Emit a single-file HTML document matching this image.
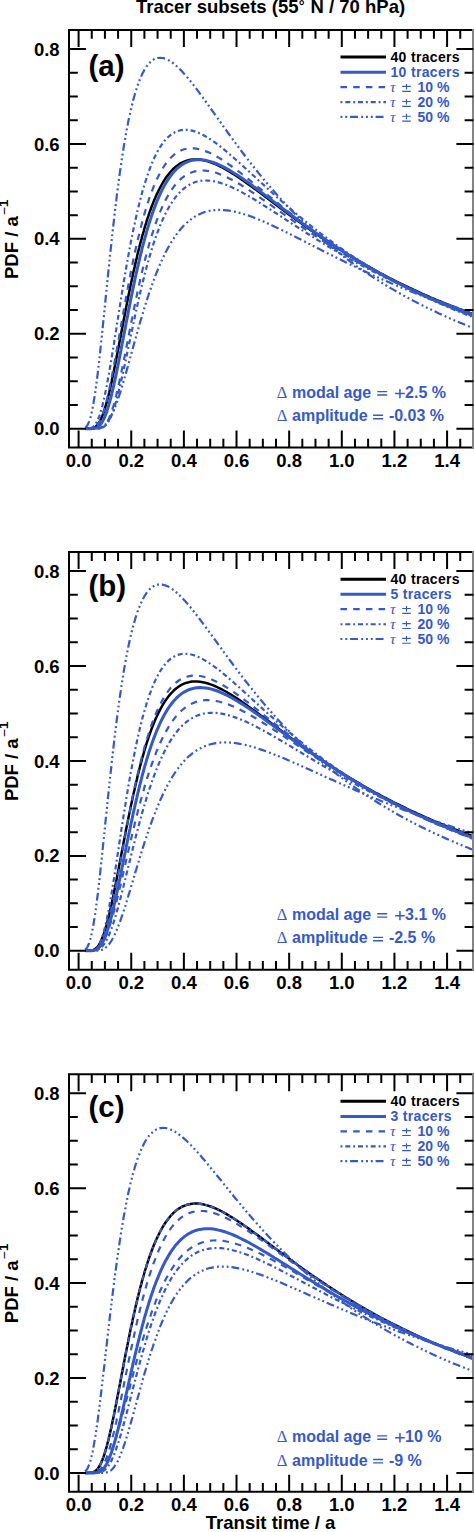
<!DOCTYPE html><html><head><meta charset="utf-8"><style>html,body{margin:0;padding:0;background:#fff;overflow:hidden;width:474px;height:1532px;}svg{display:block}</style></head><body>
<svg width="474" height="1532" viewBox="0 0 474 1532" font-family='"Liberation Sans", sans-serif'>
<rect width="474" height="1532" fill="#fff"/>
<text x="136" y="13" font-size="18.5" font-weight="bold">Tracer subsets (55<tspan font-size="14.5" dy="-1.8" dx="0.3">°</tspan><tspan dy="1.8" dx="0.8"> N / 70 hPa)</tspan></text>
<clipPath id="c0"><rect x="69.0" y="30.0" width="404.4" height="417.6"/></clipPath>
<g clip-path="url(#c0)" fill="none" stroke-linejoin="round">
<path d="M85.2,428.7 L87.2,428.7 L89.1,428.6 L89.1,428.6 L89.7,428.6 L90.3,428.6 L90.9,428.5 L91.4,428.4 L92.0,428.3 L92.6,428.1 L93.2,427.9 L93.7,427.7 L94.3,427.4 L94.9,427.1 L95.5,426.7 L96.0,426.2 L96.6,425.7 L97.2,425.1 L97.8,424.4 L98.3,423.6 L98.9,422.8 L99.5,421.8 L100.1,420.8 L100.6,419.7 L101.2,418.5 L101.8,417.1 L102.4,415.7 L102.9,414.3 L103.5,412.7 L104.1,411.0 L104.7,409.2 L105.2,407.4 L105.8,405.4 L106.4,403.4 L107.0,401.3 L107.5,399.1 L108.1,396.9 L108.7,394.5 L109.3,392.2 L109.8,389.7 L110.4,387.2 L111.0,384.6 L111.6,382.0 L112.1,379.3 L112.7,376.6 L113.3,373.8 L113.9,371.0 L114.4,368.2 L115.0,365.3 L115.6,362.4 L116.2,359.4 L116.7,356.5 L117.3,353.5 L117.9,350.5 L118.5,347.5 L119.0,344.5 L119.6,341.5 L120.2,338.5 L120.8,335.4 L121.3,332.4 L121.9,329.4 L122.5,326.4 L123.1,323.4 L123.6,320.4 L124.2,317.4 L124.8,314.4 L125.4,311.4 L125.9,308.5 L126.5,305.5 L127.1,302.6 L127.7,299.7 L128.2,296.9 L128.8,294.0 L129.4,291.2 L130.0,288.4 L130.5,285.6 L131.1,282.9 L131.7,280.2 L132.3,277.5 L132.8,274.9 L133.4,272.2 L134.0,269.6 L134.6,267.1 L135.1,264.6 L135.7,262.1 L136.3,259.6 L136.9,257.2 L137.4,254.8 L138.0,252.4 L138.6,250.1 L139.2,247.8 L139.7,245.6 L140.3,243.3 L140.9,241.2 L141.5,239.0 L142.0,236.9 L142.6,234.8 L143.2,232.8 L143.8,230.8 L144.3,228.8 L144.9,226.8 L145.5,224.9 L146.1,223.1 L146.6,221.2 L147.2,219.4 L147.8,217.7 L148.4,215.9 L148.9,214.2 L149.5,212.6 L150.1,210.9 L150.7,209.3 L151.2,207.8 L151.8,206.2 L152.4,204.7 L153.0,203.2 L153.5,201.8 L154.1,200.4 L154.7,199.0 L155.3,197.7 L155.8,196.3 L156.4,195.1 L157.0,193.8 L157.6,192.6 L160.2,187.3 L162.9,182.5 L165.5,178.3 L168.2,174.7 L170.8,171.5 L173.5,168.7 L176.1,166.4 L178.8,164.4 L181.4,162.8 L184.1,161.6 L186.8,160.6 L189.4,160.0 L192.1,159.5 L194.7,159.4 L197.4,159.4 L200.0,159.6 L202.7,160.1 L205.3,160.7 L208.0,161.4 L210.6,162.3 L213.3,163.3 L216.0,164.4 L218.6,165.7 L221.3,167.0 L223.9,168.4 L226.6,169.9 L229.2,171.5 L231.9,173.1 L234.5,174.8 L237.2,176.5 L239.8,178.3 L242.5,180.1 L245.1,182.0 L247.8,183.9 L250.5,185.8 L253.1,187.7 L255.8,189.6 L258.4,191.6 L261.1,193.6 L263.7,195.5 L266.4,197.5 L269.0,199.5 L271.7,201.5 L274.3,203.5 L277.0,205.5 L279.6,207.5 L282.3,209.5 L285.0,211.4 L287.6,213.4 L290.3,215.4 L292.9,217.3 L295.6,219.2 L298.2,221.2 L300.9,223.1 L303.5,225.0 L306.2,226.9 L308.8,228.8 L311.5,230.6 L314.2,232.5 L316.8,234.3 L319.5,236.1 L322.1,237.9 L324.8,239.7 L327.4,241.5 L330.1,243.2 L332.7,244.9 L335.4,246.7 L338.0,248.4 L340.7,250.0 L343.3,251.7 L346.0,253.4 L348.7,255.0 L351.3,256.6 L354.0,258.2 L356.6,259.8 L359.3,261.3 L361.9,262.9 L364.6,264.4 L367.2,265.9 L369.9,267.4 L372.5,268.9 L375.2,270.4 L377.9,271.8 L380.5,273.3 L383.2,274.7 L385.8,276.1 L388.5,277.5 L391.1,278.8 L393.8,280.2 L396.4,281.5 L399.1,282.8 L401.7,284.1 L404.4,285.4 L407.0,286.7 L409.7,288.0 L412.4,289.2 L415.0,290.4 L417.7,291.7 L420.3,292.9 L423.0,294.1 L425.6,295.2 L428.3,296.4 L430.9,297.6 L433.6,298.7 L436.2,299.8 L438.9,300.9 L441.6,302.0 L444.2,303.1 L446.9,304.2 L449.5,305.2 L452.2,306.3 L454.8,307.3 L457.5,308.4 L460.1,309.4 L462.8,310.4 L465.4,311.4 L468.1,312.4 L470.7,313.3 L473.4,314.3" stroke="#000" stroke-width="2.5"/>
<path d="M85.2,428.7 L87.2,428.7 L89.1,428.7 L89.1,428.7 L89.7,428.7 L90.3,428.7 L90.9,428.7 L91.4,428.7 L92.0,428.6 L92.6,428.6 L93.2,428.5 L93.7,428.5 L94.3,428.4 L94.9,428.2 L95.5,428.1 L96.0,427.9 L96.6,427.6 L97.2,427.4 L97.8,427.0 L98.3,426.6 L98.9,426.1 L99.5,425.6 L100.1,425.0 L100.6,424.3 L101.2,423.5 L101.8,422.7 L102.4,421.7 L102.9,420.7 L103.5,419.6 L104.1,418.4 L104.7,417.1 L105.2,415.7 L105.8,414.2 L106.4,412.6 L107.0,410.9 L107.5,409.2 L108.1,407.3 L108.7,405.4 L109.3,403.4 L109.8,401.3 L110.4,399.2 L111.0,397.0 L111.6,394.7 L112.1,392.3 L112.7,389.9 L113.3,387.4 L113.9,384.8 L114.4,382.2 L115.0,379.6 L115.6,376.9 L116.2,374.1 L116.7,371.4 L117.3,368.6 L117.9,365.7 L118.5,362.8 L119.0,359.9 L119.6,357.0 L120.2,354.1 L120.8,351.1 L121.3,348.1 L121.9,345.1 L122.5,342.1 L123.1,339.1 L123.6,336.1 L124.2,333.1 L124.8,330.1 L125.4,327.1 L125.9,324.1 L126.5,321.2 L127.1,318.2 L127.7,315.2 L128.2,312.3 L128.8,309.3 L129.4,306.4 L130.0,303.5 L130.5,300.7 L131.1,297.8 L131.7,295.0 L132.3,292.2 L132.8,289.4 L133.4,286.6 L134.0,283.9 L134.6,281.2 L135.1,278.5 L135.7,275.9 L136.3,273.2 L136.9,270.7 L137.4,268.1 L138.0,265.6 L138.6,263.1 L139.2,260.6 L139.7,258.2 L140.3,255.8 L140.9,253.5 L141.5,251.1 L142.0,248.8 L142.6,246.6 L143.2,244.4 L143.8,242.2 L144.3,240.0 L144.9,237.9 L145.5,235.8 L146.1,233.8 L146.6,231.8 L147.2,229.8 L147.8,227.8 L148.4,225.9 L148.9,224.0 L149.5,222.2 L150.1,220.4 L150.7,218.6 L151.2,216.9 L151.8,215.2 L152.4,213.5 L153.0,211.8 L153.5,210.2 L154.1,208.7 L154.7,207.1 L155.3,205.6 L155.8,204.1 L156.4,202.7 L157.0,201.2 L157.6,199.9 L160.2,193.8 L162.9,188.4 L165.5,183.6 L168.2,179.3 L170.8,175.6 L173.5,172.3 L176.1,169.5 L178.8,167.1 L181.4,165.0 L184.1,163.4 L186.8,162.1 L189.4,161.1 L192.1,160.3 L194.7,159.9 L197.4,159.7 L200.0,159.7 L202.7,159.9 L205.3,160.3 L208.0,160.9 L210.6,161.6 L213.3,162.5 L216.0,163.5 L218.6,164.6 L221.3,165.9 L223.9,167.2 L226.6,168.6 L229.2,170.1 L231.9,171.7 L234.5,173.4 L237.2,175.1 L239.8,176.8 L242.5,178.6 L245.1,180.4 L247.8,182.3 L250.5,184.2 L253.1,186.2 L255.8,188.1 L258.4,190.1 L261.1,192.1 L263.7,194.1 L266.4,196.1 L269.0,198.1 L271.7,200.1 L274.3,202.1 L277.0,204.1 L279.6,206.2 L282.3,208.2 L285.0,210.2 L287.6,212.2 L290.3,214.2 L292.9,216.2 L295.6,218.2 L298.2,220.2 L300.9,222.1 L303.5,224.1 L306.2,226.0 L308.8,227.9 L311.5,229.8 L314.2,231.7 L316.8,233.6 L319.5,235.5 L322.1,237.3 L324.8,239.1 L327.4,241.0 L330.1,242.8 L332.7,244.5 L335.4,246.3 L338.0,248.1 L340.7,249.8 L343.3,251.5 L346.0,253.2 L348.7,254.9 L351.3,256.5 L354.0,258.2 L356.6,259.8 L359.3,261.4 L361.9,263.0 L364.6,264.6 L367.2,266.1 L369.9,267.7 L372.5,269.2 L375.2,270.7 L377.9,272.2 L380.5,273.7 L383.2,275.1 L385.8,276.6 L388.5,278.0 L391.1,279.4 L393.8,280.8 L396.4,282.2 L399.1,283.5 L401.7,284.9 L404.4,286.2 L407.0,287.5 L409.7,288.8 L412.4,290.1 L415.0,291.3 L417.7,292.6 L420.3,293.8 L423.0,295.1 L425.6,296.3 L428.3,297.5 L430.9,298.7 L433.6,299.8 L436.2,301.0 L438.9,302.1 L441.6,303.2 L444.2,304.4 L446.9,305.5 L449.5,306.6 L452.2,307.6 L454.8,308.7 L457.5,309.8 L460.1,310.8 L462.8,311.8 L465.4,312.8 L468.1,313.9 L470.7,314.8 L473.4,315.8" stroke="#3659c8" stroke-width="3"/>
<path d="M85.2,427.7 L87.2,425.7 L89.1,421.6 L89.1,421.6 L89.7,419.9 L90.3,418.1 L90.9,415.9 L91.4,413.6 L92.0,411.0 L92.6,408.1 L93.2,405.1 L93.7,401.8 L94.3,398.2 L94.9,394.5 L95.5,390.5 L96.0,386.3 L96.6,382.0 L97.2,377.5 L97.8,372.8 L98.3,368.0 L98.9,363.0 L99.5,357.9 L100.1,352.7 L100.6,347.4 L101.2,341.9 L101.8,336.5 L102.4,330.9 L102.9,325.3 L103.5,319.7 L104.1,314.0 L104.7,308.3 L105.2,302.6 L105.8,296.9 L106.4,291.2 L107.0,285.5 L107.5,279.9 L108.1,274.2 L108.7,268.6 L109.3,263.0 L109.8,257.5 L110.4,252.1 L111.0,246.7 L111.6,241.3 L112.1,236.0 L112.7,230.8 L113.3,225.7 L113.9,220.6 L114.4,215.6 L115.0,210.7 L115.6,205.9 L116.2,201.1 L116.7,196.5 L117.3,191.9 L117.9,187.4 L118.5,183.0 L119.0,178.7 L119.6,174.5 L120.2,170.3 L120.8,166.3 L121.3,162.4 L121.9,158.5 L122.5,154.7 L123.1,151.1 L123.6,147.5 L124.2,144.0 L124.8,140.6 L125.4,137.2 L125.9,134.0 L126.5,130.9 L127.1,127.8 L127.7,124.8 L128.2,121.9 L128.8,119.1 L129.4,116.4 L130.0,113.7 L130.5,111.2 L131.1,108.7 L131.7,106.2 L132.3,103.9 L132.8,101.6 L133.4,99.4 L134.0,97.3 L134.6,95.3 L135.1,93.3 L135.7,91.4 L136.3,89.5 L136.9,87.8 L137.4,86.0 L138.0,84.4 L138.6,82.8 L139.2,81.3 L139.7,79.8 L140.3,78.4 L140.9,77.0 L141.5,75.7 L142.0,74.5 L142.6,73.3 L143.2,72.2 L143.8,71.1 L144.3,70.1 L144.9,69.1 L145.5,68.2 L146.1,67.3 L146.6,66.4 L147.2,65.6 L147.8,64.9 L148.4,64.2 L148.9,63.5 L149.5,62.9 L150.1,62.3 L150.7,61.8 L151.2,61.3 L151.8,60.8 L152.4,60.4 L153.0,60.0 L153.5,59.6 L154.1,59.3 L154.7,59.0 L155.3,58.7 L155.8,58.5 L156.4,58.3 L157.0,58.2 L157.6,58.0 L160.2,57.8 L162.9,58.0 L165.5,58.8 L168.2,60.0 L170.8,61.6 L173.5,63.5 L176.1,65.7 L178.8,68.1 L181.4,70.8 L184.1,73.7 L186.8,76.7 L189.4,79.9 L192.1,83.2 L194.7,86.6 L197.4,90.1 L200.0,93.7 L202.7,97.3 L205.3,101.0 L208.0,104.7 L210.6,108.4 L213.3,112.1 L216.0,115.9 L218.6,119.6 L221.3,123.4 L223.9,127.1 L226.6,130.8 L229.2,134.5 L231.9,138.1 L234.5,141.8 L237.2,145.4 L239.8,148.9 L242.5,152.5 L245.1,156.0 L247.8,159.4 L250.5,162.9 L253.1,166.2 L255.8,169.6 L258.4,172.9 L261.1,176.1 L263.7,179.3 L266.4,182.5 L269.0,185.6 L271.7,188.7 L274.3,191.7 L277.0,194.7 L279.6,197.7 L282.3,200.6 L285.0,203.4 L287.6,206.3 L290.3,209.0 L292.9,211.8 L295.6,214.5 L298.2,217.1 L300.9,219.7 L303.5,222.3 L306.2,224.8 L308.8,227.3 L311.5,229.8 L314.2,232.2 L316.8,234.6 L319.5,236.9 L322.1,239.2 L324.8,241.5 L327.4,243.7 L330.1,245.9 L332.7,248.0 L335.4,250.2 L338.0,252.3 L340.7,254.3 L343.3,256.4 L346.0,258.4 L348.7,260.3 L351.3,262.3 L354.0,264.2 L356.6,266.1 L359.3,268.0 L361.9,269.8 L364.6,271.6 L367.2,273.4 L369.9,275.1 L372.5,276.9 L375.2,278.6 L377.9,280.3 L380.5,281.9 L383.2,283.6 L385.8,285.2 L388.5,286.8 L391.1,288.4 L393.8,289.9 L396.4,291.5 L399.1,293.0 L401.7,294.5 L404.4,295.9 L407.0,297.4 L409.7,298.8 L412.4,300.2 L415.0,301.6 L417.7,303.0 L420.3,304.4 L423.0,305.7 L425.6,307.0 L428.3,308.3 L430.9,309.6 L433.6,310.9 L436.2,312.1 L438.9,313.4 L441.6,314.6 L444.2,315.8 L446.9,317.0 L449.5,318.2 L452.2,319.3 L454.8,320.5 L457.5,321.6 L460.1,322.7 L462.8,323.8 L465.4,324.9 L468.1,326.0 L470.7,327.1 L473.4,328.1" stroke="#3659c8" stroke-width="2.2" stroke-dasharray="7.9 3.2 1.9 2.9 1.9 2.9 1.9 2.9"/>
<path d="M85.2,428.7 L87.2,428.7 L89.1,428.5 L89.1,428.5 L89.7,428.4 L90.3,428.3 L90.9,428.1 L91.4,427.9 L92.0,427.6 L92.6,427.2 L93.2,426.8 L93.7,426.3 L94.3,425.7 L94.9,425.0 L95.5,424.3 L96.0,423.4 L96.6,422.4 L97.2,421.3 L97.8,420.0 L98.3,418.7 L98.9,417.2 L99.5,415.6 L100.1,413.9 L100.6,412.1 L101.2,410.1 L101.8,408.0 L102.4,405.8 L102.9,403.5 L103.5,401.1 L104.1,398.6 L104.7,396.0 L105.2,393.3 L105.8,390.4 L106.4,387.5 L107.0,384.6 L107.5,381.5 L108.1,378.4 L108.7,375.2 L109.3,371.9 L109.8,368.6 L110.4,365.2 L111.0,361.8 L111.6,358.3 L112.1,354.8 L112.7,351.2 L113.3,347.7 L113.9,344.1 L114.4,340.5 L115.0,336.8 L115.6,333.2 L116.2,329.5 L116.7,325.9 L117.3,322.2 L117.9,318.6 L118.5,314.9 L119.0,311.3 L119.6,307.6 L120.2,304.0 L120.8,300.4 L121.3,296.9 L121.9,293.3 L122.5,289.8 L123.1,286.3 L123.6,282.8 L124.2,279.4 L124.8,276.0 L125.4,272.6 L125.9,269.2 L126.5,265.9 L127.1,262.7 L127.7,259.4 L128.2,256.3 L128.8,253.1 L129.4,250.0 L130.0,246.9 L130.5,243.9 L131.1,240.9 L131.7,238.0 L132.3,235.1 L132.8,232.3 L133.4,229.5 L134.0,226.7 L134.6,224.0 L135.1,221.4 L135.7,218.7 L136.3,216.2 L136.9,213.7 L137.4,211.2 L138.0,208.7 L138.6,206.4 L139.2,204.0 L139.7,201.7 L140.3,199.5 L140.9,197.3 L141.5,195.1 L142.0,193.0 L142.6,190.9 L143.2,188.9 L143.8,186.9 L144.3,185.0 L144.9,183.1 L145.5,181.3 L146.1,179.5 L146.6,177.7 L147.2,176.0 L147.8,174.3 L148.4,172.6 L148.9,171.0 L149.5,169.5 L150.1,167.9 L150.7,166.4 L151.2,165.0 L151.8,163.6 L152.4,162.2 L153.0,160.9 L153.5,159.6 L154.1,158.3 L154.7,157.1 L155.3,155.9 L155.8,154.7 L156.4,153.6 L157.0,152.5 L157.6,151.4 L160.2,146.9 L162.9,143.0 L165.5,139.7 L168.2,137.0 L170.8,134.8 L173.5,133.0 L176.1,131.6 L178.8,130.7 L181.4,130.1 L184.1,129.8 L186.8,129.8 L189.4,130.1 L192.1,130.6 L194.7,131.4 L197.4,132.3 L200.0,133.5 L202.7,134.8 L205.3,136.2 L208.0,137.8 L210.6,139.5 L213.3,141.3 L216.0,143.2 L218.6,145.2 L221.3,147.3 L223.9,149.4 L226.6,151.6 L229.2,153.9 L231.9,156.2 L234.5,158.5 L237.2,160.8 L239.8,163.2 L242.5,165.6 L245.1,168.0 L247.8,170.4 L250.5,172.9 L253.1,175.3 L255.8,177.7 L258.4,180.2 L261.1,182.6 L263.7,185.0 L266.4,187.5 L269.0,189.9 L271.7,192.3 L274.3,194.7 L277.0,197.1 L279.6,199.4 L282.3,201.8 L285.0,204.1 L287.6,206.4 L290.3,208.7 L292.9,211.0 L295.6,213.2 L298.2,215.4 L300.9,217.7 L303.5,219.8 L306.2,222.0 L308.8,224.2 L311.5,226.3 L314.2,228.4 L316.8,230.4 L319.5,232.5 L322.1,234.5 L324.8,236.5 L327.4,238.5 L330.1,240.5 L332.7,242.4 L335.4,244.3 L338.0,246.2 L340.7,248.1 L343.3,249.9 L346.0,251.8 L348.7,253.6 L351.3,255.4 L354.0,257.1 L356.6,258.9 L359.3,260.6 L361.9,262.3 L364.6,263.9 L367.2,265.6 L369.9,267.2 L372.5,268.8 L375.2,270.4 L377.9,272.0 L380.5,273.5 L383.2,275.1 L385.8,276.6 L388.5,278.1 L391.1,279.6 L393.8,281.0 L396.4,282.5 L399.1,283.9 L401.7,285.3 L404.4,286.7 L407.0,288.0 L409.7,289.4 L412.4,290.7 L415.0,292.0 L417.7,293.3 L420.3,294.6 L423.0,295.9 L425.6,297.1 L428.3,298.4 L430.9,299.6 L433.6,300.8 L436.2,302.0 L438.9,303.2 L441.6,304.3 L444.2,305.5 L446.9,306.6 L449.5,307.7 L452.2,308.8 L454.8,309.9 L457.5,311.0 L460.1,312.1 L462.8,313.1 L465.4,314.2 L468.1,315.2 L470.7,316.2 L473.4,317.2" stroke="#3659c8" stroke-width="2.2" stroke-dasharray="1.9 2.9 5 2.9"/>
<path d="M85.2,428.7 L87.2,428.7 L89.1,428.7 L89.1,428.7 L89.7,428.6 L90.3,428.6 L90.9,428.5 L91.4,428.5 L92.0,428.4 L92.6,428.2 L93.2,428.1 L93.7,427.8 L94.3,427.6 L94.9,427.2 L95.5,426.8 L96.0,426.4 L96.6,425.8 L97.2,425.2 L97.8,424.5 L98.3,423.7 L98.9,422.8 L99.5,421.8 L100.1,420.7 L100.6,419.5 L101.2,418.2 L101.8,416.8 L102.4,415.3 L102.9,413.6 L103.5,411.9 L104.1,410.1 L104.7,408.2 L105.2,406.1 L105.8,404.0 L106.4,401.8 L107.0,399.5 L107.5,397.1 L108.1,394.6 L108.7,392.0 L109.3,389.4 L109.8,386.7 L110.4,383.9 L111.0,381.1 L111.6,378.2 L112.1,375.3 L112.7,372.3 L113.3,369.2 L113.9,366.1 L114.4,363.0 L115.0,359.9 L115.6,356.7 L116.2,353.5 L116.7,350.2 L117.3,347.0 L117.9,343.7 L118.5,340.5 L119.0,337.2 L119.6,333.9 L120.2,330.6 L120.8,327.3 L121.3,324.0 L121.9,320.7 L122.5,317.5 L123.1,314.2 L123.6,311.0 L124.2,307.7 L124.8,304.5 L125.4,301.3 L125.9,298.2 L126.5,295.0 L127.1,291.9 L127.7,288.8 L128.2,285.7 L128.8,282.7 L129.4,279.7 L130.0,276.7 L130.5,273.8 L131.1,270.9 L131.7,268.0 L132.3,265.1 L132.8,262.3 L133.4,259.6 L134.0,256.8 L134.6,254.1 L135.1,251.5 L135.7,248.8 L136.3,246.3 L136.9,243.7 L137.4,241.2 L138.0,238.8 L138.6,236.3 L139.2,233.9 L139.7,231.6 L140.3,229.3 L140.9,227.0 L141.5,224.8 L142.0,222.6 L142.6,220.5 L143.2,218.4 L143.8,216.3 L144.3,214.3 L144.9,212.3 L145.5,210.3 L146.1,208.4 L146.6,206.5 L147.2,204.7 L147.8,202.9 L148.4,201.1 L148.9,199.4 L149.5,197.7 L150.1,196.1 L150.7,194.5 L151.2,192.9 L151.8,191.4 L152.4,189.8 L153.0,188.4 L153.5,186.9 L154.1,185.5 L154.7,184.2 L155.3,182.8 L155.8,181.5 L156.4,180.2 L157.0,179.0 L157.6,177.8 L160.2,172.6 L162.9,168.0 L165.5,164.0 L168.2,160.6 L170.8,157.7 L173.5,155.2 L176.1,153.1 L178.8,151.5 L181.4,150.2 L184.1,149.3 L186.8,148.7 L189.4,148.3 L192.1,148.3 L194.7,148.4 L197.4,148.8 L200.0,149.4 L202.7,150.1 L205.3,151.1 L208.0,152.1 L210.6,153.3 L213.3,154.7 L216.0,156.1 L218.6,157.6 L221.3,159.3 L223.9,161.0 L226.6,162.7 L229.2,164.6 L231.9,166.5 L234.5,168.4 L237.2,170.4 L239.8,172.4 L242.5,174.5 L245.1,176.6 L247.8,178.7 L250.5,180.8 L253.1,183.0 L255.8,185.1 L258.4,187.3 L261.1,189.4 L263.7,191.6 L266.4,193.8 L269.0,196.0 L271.7,198.1 L274.3,200.3 L277.0,202.4 L279.6,204.6 L282.3,206.7 L285.0,208.8 L287.6,211.0 L290.3,213.1 L292.9,215.1 L295.6,217.2 L298.2,219.3 L300.9,221.3 L303.5,223.3 L306.2,225.3 L308.8,227.3 L311.5,229.3 L314.2,231.2 L316.8,233.2 L319.5,235.1 L322.1,237.0 L324.8,238.9 L327.4,240.7 L330.1,242.6 L332.7,244.4 L335.4,246.2 L338.0,248.0 L340.7,249.7 L343.3,251.5 L346.0,253.2 L348.7,254.9 L351.3,256.6 L354.0,258.2 L356.6,259.9 L359.3,261.5 L361.9,263.1 L364.6,264.7 L367.2,266.3 L369.9,267.8 L372.5,269.4 L375.2,270.9 L377.9,272.4 L380.5,273.9 L383.2,275.3 L385.8,276.8 L388.5,278.2 L391.1,279.6 L393.8,281.0 L396.4,282.4 L399.1,283.7 L401.7,285.1 L404.4,286.4 L407.0,287.7 L409.7,289.0 L412.4,290.3 L415.0,291.6 L417.7,292.8 L420.3,294.1 L423.0,295.3 L425.6,296.5 L428.3,297.7 L430.9,298.8 L433.6,300.0 L436.2,301.2 L438.9,302.3 L441.6,303.4 L444.2,304.5 L446.9,305.6 L449.5,306.7 L452.2,307.8 L454.8,308.8 L457.5,309.9 L460.1,310.9 L462.8,311.9 L465.4,312.9 L468.1,313.9 L470.7,314.9 L473.4,315.9" stroke="#3659c8" stroke-width="2.2" stroke-dasharray="6.5 6.2"/>
<path d="M85.2,428.7 L87.2,428.7 L89.1,428.7 L89.1,428.7 L89.7,428.7 L90.3,428.7 L90.9,428.7 L91.4,428.7 L92.0,428.7 L92.6,428.7 L93.2,428.7 L93.7,428.7 L94.3,428.7 L94.9,428.7 L95.5,428.7 L96.0,428.7 L96.6,428.7 L97.2,428.6 L97.8,428.6 L98.3,428.5 L98.9,428.4 L99.5,428.3 L100.1,428.2 L100.6,428.0 L101.2,427.8 L101.8,427.6 L102.4,427.2 L102.9,426.9 L103.5,426.4 L104.1,425.9 L104.7,425.4 L105.2,424.7 L105.8,424.0 L106.4,423.1 L107.0,422.2 L107.5,421.2 L108.1,420.1 L108.7,419.0 L109.3,417.7 L109.8,416.3 L110.4,414.9 L111.0,413.3 L111.6,411.7 L112.1,410.0 L112.7,408.1 L113.3,406.3 L113.9,404.3 L114.4,402.2 L115.0,400.1 L115.6,397.9 L116.2,395.6 L116.7,393.3 L117.3,390.8 L117.9,388.4 L118.5,385.9 L119.0,383.3 L119.6,380.7 L120.2,378.0 L120.8,375.3 L121.3,372.6 L121.9,369.8 L122.5,367.0 L123.1,364.1 L123.6,361.3 L124.2,358.4 L124.8,355.5 L125.4,352.6 L125.9,349.6 L126.5,346.7 L127.1,343.8 L127.7,340.8 L128.2,337.9 L128.8,334.9 L129.4,332.0 L130.0,329.1 L130.5,326.2 L131.1,323.2 L131.7,320.3 L132.3,317.5 L132.8,314.6 L133.4,311.7 L134.0,308.9 L134.6,306.1 L135.1,303.3 L135.7,300.5 L136.3,297.8 L136.9,295.1 L137.4,292.4 L138.0,289.7 L138.6,287.1 L139.2,284.4 L139.7,281.9 L140.3,279.3 L140.9,276.8 L141.5,274.3 L142.0,271.8 L142.6,269.4 L143.2,267.0 L143.8,264.7 L144.3,262.4 L144.9,260.1 L145.5,257.8 L146.1,255.6 L146.6,253.4 L147.2,251.2 L147.8,249.1 L148.4,247.0 L148.9,245.0 L149.5,243.0 L150.1,241.0 L150.7,239.0 L151.2,237.1 L151.8,235.3 L152.4,233.4 L153.0,231.6 L153.5,229.8 L154.1,228.1 L154.7,226.4 L155.3,224.7 L155.8,223.1 L156.4,221.4 L157.0,219.9 L157.6,218.3 L160.2,211.6 L162.9,205.5 L165.5,200.1 L168.2,195.2 L170.8,190.9 L173.5,187.1 L176.1,183.7 L178.8,180.9 L181.4,178.4 L184.1,176.3 L186.8,174.6 L189.4,173.3 L192.1,172.2 L194.7,171.4 L197.4,170.9 L200.0,170.6 L202.7,170.5 L205.3,170.6 L208.0,171.0 L210.6,171.4 L213.3,172.1 L216.0,172.8 L218.6,173.8 L221.3,174.8 L223.9,175.9 L226.6,177.1 L229.2,178.4 L231.9,179.8 L234.5,181.3 L237.2,182.8 L239.8,184.3 L242.5,186.0 L245.1,187.6 L247.8,189.3 L250.5,191.1 L253.1,192.8 L255.8,194.6 L258.4,196.4 L261.1,198.3 L263.7,200.1 L266.4,202.0 L269.0,203.8 L271.7,205.7 L274.3,207.6 L277.0,209.4 L279.6,211.3 L282.3,213.2 L285.0,215.1 L287.6,216.9 L290.3,218.8 L292.9,220.7 L295.6,222.5 L298.2,224.4 L300.9,226.2 L303.5,228.0 L306.2,229.8 L308.8,231.6 L311.5,233.4 L314.2,235.2 L316.8,236.9 L319.5,238.7 L322.1,240.4 L324.8,242.1 L327.4,243.8 L330.1,245.5 L332.7,247.2 L335.4,248.8 L338.0,250.5 L340.7,252.1 L343.3,253.7 L346.0,255.3 L348.7,256.9 L351.3,258.4 L354.0,259.9 L356.6,261.5 L359.3,263.0 L361.9,264.5 L364.6,266.0 L367.2,267.4 L369.9,268.9 L372.5,270.3 L375.2,271.7 L377.9,273.1 L380.5,274.5 L383.2,275.9 L385.8,277.2 L388.5,278.5 L391.1,279.9 L393.8,281.2 L396.4,282.5 L399.1,283.7 L401.7,285.0 L404.4,286.2 L407.0,287.5 L409.7,288.7 L412.4,289.9 L415.0,291.1 L417.7,292.3 L420.3,293.4 L423.0,294.6 L425.6,295.7 L428.3,296.9 L430.9,298.0 L433.6,299.1 L436.2,300.2 L438.9,301.2 L441.6,302.3 L444.2,303.4 L446.9,304.4 L449.5,305.4 L452.2,306.4 L454.8,307.4 L457.5,308.4 L460.1,309.4 L462.8,310.4 L465.4,311.3 L468.1,312.3 L470.7,313.2 L473.4,314.2" stroke="#3659c8" stroke-width="2.2" stroke-dasharray="6.5 6.2"/>
<path d="M85.2,428.7 L87.2,428.7 L89.1,428.7 L89.1,428.7 L89.7,428.7 L90.3,428.7 L90.9,428.7 L91.4,428.7 L92.0,428.7 L92.6,428.7 L93.2,428.7 L93.7,428.7 L94.3,428.7 L94.9,428.7 L95.5,428.7 L96.0,428.7 L96.6,428.7 L97.2,428.7 L97.8,428.6 L98.3,428.6 L98.9,428.5 L99.5,428.5 L100.1,428.4 L100.6,428.3 L101.2,428.1 L101.8,427.9 L102.4,427.7 L102.9,427.4 L103.5,427.1 L104.1,426.7 L104.7,426.2 L105.2,425.7 L105.8,425.2 L106.4,424.5 L107.0,423.8 L107.5,423.0 L108.1,422.1 L108.7,421.1 L109.3,420.0 L109.8,418.9 L110.4,417.7 L111.0,416.4 L111.6,415.0 L112.1,413.5 L112.7,411.9 L113.3,410.3 L113.9,408.6 L114.4,406.8 L115.0,404.9 L115.6,402.9 L116.2,400.9 L116.7,398.8 L117.3,396.7 L117.9,394.5 L118.5,392.2 L119.0,389.9 L119.6,387.6 L120.2,385.1 L120.8,382.7 L121.3,380.2 L121.9,377.6 L122.5,375.1 L123.1,372.5 L123.6,369.8 L124.2,367.2 L124.8,364.5 L125.4,361.8 L125.9,359.1 L126.5,356.4 L127.1,353.6 L127.7,350.9 L128.2,348.1 L128.8,345.4 L129.4,342.6 L130.0,339.8 L130.5,337.1 L131.1,334.3 L131.7,331.6 L132.3,328.9 L132.8,326.1 L133.4,323.4 L134.0,320.7 L134.6,318.0 L135.1,315.4 L135.7,312.7 L136.3,310.1 L136.9,307.5 L137.4,304.9 L138.0,302.3 L138.6,299.8 L139.2,297.3 L139.7,294.8 L140.3,292.3 L140.9,289.8 L141.5,287.4 L142.0,285.0 L142.6,282.7 L143.2,280.4 L143.8,278.1 L144.3,275.8 L144.9,273.5 L145.5,271.3 L146.1,269.2 L146.6,267.0 L147.2,264.9 L147.8,262.8 L148.4,260.7 L148.9,258.7 L149.5,256.7 L150.1,254.8 L150.7,252.8 L151.2,250.9 L151.8,249.1 L152.4,247.2 L153.0,245.4 L153.5,243.7 L154.1,241.9 L154.7,240.2 L155.3,238.5 L155.8,236.9 L156.4,235.3 L157.0,233.7 L157.6,232.1 L160.2,225.3 L162.9,219.1 L165.5,213.5 L168.2,208.5 L170.8,204.0 L173.5,200.0 L176.1,196.4 L178.8,193.3 L181.4,190.6 L184.1,188.3 L186.8,186.3 L189.4,184.7 L192.1,183.4 L194.7,182.3 L197.4,181.5 L200.0,181.0 L202.7,180.6 L205.3,180.5 L208.0,180.6 L210.6,180.8 L213.3,181.2 L216.0,181.7 L218.6,182.4 L221.3,183.2 L223.9,184.1 L226.6,185.0 L229.2,186.1 L231.9,187.3 L234.5,188.5 L237.2,189.8 L239.8,191.2 L242.5,192.6 L245.1,194.1 L247.8,195.6 L250.5,197.1 L253.1,198.7 L255.8,200.3 L258.4,202.0 L261.1,203.6 L263.7,205.3 L266.4,207.0 L269.0,208.7 L271.7,210.4 L274.3,212.1 L277.0,213.8 L279.6,215.6 L282.3,217.3 L285.0,219.1 L287.6,220.8 L290.3,222.5 L292.9,224.3 L295.6,226.0 L298.2,227.7 L300.9,229.4 L303.5,231.1 L306.2,232.8 L308.8,234.5 L311.5,236.2 L314.2,237.8 L316.8,239.5 L319.5,241.1 L322.1,242.8 L324.8,244.4 L327.4,246.0 L330.1,247.6 L332.7,249.2 L335.4,250.7 L338.0,252.3 L340.7,253.8 L343.3,255.3 L346.0,256.9 L348.7,258.4 L351.3,259.8 L354.0,261.3 L356.6,262.8 L359.3,264.2 L361.9,265.6 L364.6,267.0 L367.2,268.4 L369.9,269.8 L372.5,271.2 L375.2,272.5 L377.9,273.9 L380.5,275.2 L383.2,276.5 L385.8,277.8 L388.5,279.1 L391.1,280.3 L393.8,281.6 L396.4,282.8 L399.1,284.1 L401.7,285.3 L404.4,286.5 L407.0,287.7 L409.7,288.8 L412.4,290.0 L415.0,291.1 L417.7,292.3 L420.3,293.4 L423.0,294.5 L425.6,295.6 L428.3,296.7 L430.9,297.8 L433.6,298.8 L436.2,299.9 L438.9,300.9 L441.6,301.9 L444.2,303.0 L446.9,304.0 L449.5,305.0 L452.2,305.9 L454.8,306.9 L457.5,307.9 L460.1,308.8 L462.8,309.8 L465.4,310.7 L468.1,311.6 L470.7,312.5 L473.4,313.4" stroke="#3659c8" stroke-width="2.2" stroke-dasharray="1.9 2.9 5 2.9"/>
<path d="M85.2,428.7 L87.2,428.7 L89.1,428.7 L89.1,428.7 L89.7,428.7 L90.3,428.7 L90.9,428.7 L91.4,428.7 L92.0,428.7 L92.6,428.7 L93.2,428.7 L93.7,428.7 L94.3,428.7 L94.9,428.6 L95.5,428.6 L96.0,428.6 L96.6,428.5 L97.2,428.5 L97.8,428.4 L98.3,428.3 L98.9,428.2 L99.5,428.0 L100.1,427.8 L100.6,427.6 L101.2,427.4 L101.8,427.1 L102.4,426.8 L102.9,426.5 L103.5,426.1 L104.1,425.6 L104.7,425.2 L105.2,424.6 L105.8,424.0 L106.4,423.4 L107.0,422.7 L107.5,422.0 L108.1,421.2 L108.7,420.3 L109.3,419.4 L109.8,418.4 L110.4,417.4 L111.0,416.3 L111.6,415.2 L112.1,414.0 L112.7,412.8 L113.3,411.5 L113.9,410.2 L114.4,408.8 L115.0,407.4 L115.6,405.9 L116.2,404.4 L116.7,402.8 L117.3,401.2 L117.9,399.5 L118.5,397.8 L119.0,396.1 L119.6,394.3 L120.2,392.6 L120.8,390.7 L121.3,388.9 L121.9,387.0 L122.5,385.1 L123.1,383.1 L123.6,381.2 L124.2,379.2 L124.8,377.2 L125.4,375.2 L125.9,373.2 L126.5,371.1 L127.1,369.1 L127.7,367.0 L128.2,364.9 L128.8,362.9 L129.4,360.8 L130.0,358.7 L130.5,356.6 L131.1,354.5 L131.7,352.4 L132.3,350.3 L132.8,348.2 L133.4,346.1 L134.0,344.0 L134.6,341.9 L135.1,339.8 L135.7,337.8 L136.3,335.7 L136.9,333.7 L137.4,331.6 L138.0,329.6 L138.6,327.6 L139.2,325.5 L139.7,323.5 L140.3,321.6 L140.9,319.6 L141.5,317.6 L142.0,315.7 L142.6,313.8 L143.2,311.9 L143.8,310.0 L144.3,308.1 L144.9,306.2 L145.5,304.4 L146.1,302.6 L146.6,300.8 L147.2,299.0 L147.8,297.2 L148.4,295.5 L148.9,293.7 L149.5,292.0 L150.1,290.3 L150.7,288.7 L151.2,287.0 L151.8,285.4 L152.4,283.8 L153.0,282.2 L153.5,280.6 L154.1,279.1 L154.7,277.5 L155.3,276.0 L155.8,274.6 L156.4,273.1 L157.0,271.6 L157.6,270.2 L160.2,263.9 L162.9,258.1 L165.5,252.6 L168.2,247.6 L170.8,243.0 L173.5,238.8 L176.1,234.9 L178.8,231.4 L181.4,228.2 L184.1,225.3 L186.8,222.8 L189.4,220.5 L192.1,218.5 L194.7,216.7 L197.4,215.2 L200.0,213.9 L202.7,212.8 L205.3,211.9 L208.0,211.2 L210.6,210.6 L213.3,210.2 L216.0,210.0 L218.6,209.9 L221.3,209.9 L223.9,210.1 L226.6,210.3 L229.2,210.7 L231.9,211.1 L234.5,211.6 L237.2,212.2 L239.8,212.9 L242.5,213.7 L245.1,214.5 L247.8,215.4 L250.5,216.3 L253.1,217.3 L255.8,218.3 L258.4,219.4 L261.1,220.5 L263.7,221.6 L266.4,222.8 L269.0,224.0 L271.7,225.2 L274.3,226.4 L277.0,227.7 L279.6,229.0 L282.3,230.3 L285.0,231.6 L287.6,232.9 L290.3,234.2 L292.9,235.6 L295.6,236.9 L298.2,238.3 L300.9,239.6 L303.5,241.0 L306.2,242.3 L308.8,243.7 L311.5,245.0 L314.2,246.4 L316.8,247.8 L319.5,249.1 L322.1,250.5 L324.8,251.8 L327.4,253.2 L330.1,254.5 L332.7,255.8 L335.4,257.2 L338.0,258.5 L340.7,259.8 L343.3,261.1 L346.0,262.4 L348.7,263.7 L351.3,265.0 L354.0,266.3 L356.6,267.5 L359.3,268.8 L361.9,270.1 L364.6,271.3 L367.2,272.5 L369.9,273.7 L372.5,275.0 L375.2,276.2 L377.9,277.4 L380.5,278.5 L383.2,279.7 L385.8,280.9 L388.5,282.0 L391.1,283.2 L393.8,284.3 L396.4,285.5 L399.1,286.6 L401.7,287.7 L404.4,288.8 L407.0,289.9 L409.7,290.9 L412.4,292.0 L415.0,293.1 L417.7,294.1 L420.3,295.1 L423.0,296.2 L425.6,297.2 L428.3,298.2 L430.9,299.2 L433.6,300.2 L436.2,301.2 L438.9,302.1 L441.6,303.1 L444.2,304.1 L446.9,305.0 L449.5,305.9 L452.2,306.9 L454.8,307.8 L457.5,308.7 L460.1,309.6 L462.8,310.5 L465.4,311.3 L468.1,312.2 L470.7,313.1 L473.4,313.9" stroke="#3659c8" stroke-width="2.2" stroke-dasharray="7.9 3.2 1.9 2.9 1.9 2.9 1.9 2.9"/>
</g>
<path d="M474,30.0 H69.0 V447.6 H474" fill="none" stroke="#000" stroke-width="2"/>
<rect x="472" y="29.0" width="2" height="419.6" fill="#858585"/>
<path d="M78.60,447.6 V430.60 M78.60,30.0 V47.00 M91.76,447.6 V438.80 M91.76,30.0 V38.80 M104.92,447.6 V438.80 M104.92,30.0 V38.80 M118.08,447.6 V438.80 M118.08,30.0 V38.80 M131.24,447.6 V430.60 M131.24,30.0 V47.00 M144.40,447.6 V438.80 M144.40,30.0 V38.80 M157.56,447.6 V438.80 M157.56,30.0 V38.80 M170.72,447.6 V438.80 M170.72,30.0 V38.80 M183.88,447.6 V430.60 M183.88,30.0 V47.00 M197.04,447.6 V438.80 M197.04,30.0 V38.80 M210.20,447.6 V438.80 M210.20,30.0 V38.80 M223.36,447.6 V438.80 M223.36,30.0 V38.80 M236.52,447.6 V430.60 M236.52,30.0 V47.00 M249.68,447.6 V438.80 M249.68,30.0 V38.80 M262.84,447.6 V438.80 M262.84,30.0 V38.80 M276.00,447.6 V438.80 M276.00,30.0 V38.80 M289.16,447.6 V430.60 M289.16,30.0 V47.00 M302.32,447.6 V438.80 M302.32,30.0 V38.80 M315.48,447.6 V438.80 M315.48,30.0 V38.80 M328.64,447.6 V438.80 M328.64,30.0 V38.80 M341.80,447.6 V430.60 M341.80,30.0 V47.00 M354.96,447.6 V438.80 M354.96,30.0 V38.80 M368.12,447.6 V438.80 M368.12,30.0 V38.80 M381.28,447.6 V438.80 M381.28,30.0 V38.80 M394.44,447.6 V430.60 M394.44,30.0 V47.00 M407.60,447.6 V438.80 M407.60,30.0 V38.80 M420.76,447.6 V438.80 M420.76,30.0 V38.80 M433.92,447.6 V438.80 M433.92,30.0 V38.80 M447.08,447.6 V430.60 M447.08,30.0 V47.00 M460.24,447.6 V438.80 M460.24,30.0 V38.80 M69.0,428.70 H86.00 M473.4,428.70 H456.40 M69.0,404.97 H77.80 M473.4,404.97 H464.60 M69.0,381.24 H77.80 M473.4,381.24 H464.60 M69.0,357.51 H77.80 M473.4,357.51 H464.60 M69.0,333.78 H86.00 M473.4,333.78 H456.40 M69.0,310.05 H77.80 M473.4,310.05 H464.60 M69.0,286.32 H77.80 M473.4,286.32 H464.60 M69.0,262.59 H77.80 M473.4,262.59 H464.60 M69.0,238.86 H86.00 M473.4,238.86 H456.40 M69.0,215.13 H77.80 M473.4,215.13 H464.60 M69.0,191.40 H77.80 M473.4,191.40 H464.60 M69.0,167.67 H77.80 M473.4,167.67 H464.60 M69.0,143.94 H86.00 M473.4,143.94 H456.40 M69.0,120.21 H77.80 M473.4,120.21 H464.60 M69.0,96.48 H77.80 M473.4,96.48 H464.60 M69.0,72.75 H77.80 M473.4,72.75 H464.60 M69.0,49.02 H86.00 M473.4,49.02 H456.40" stroke="#000" stroke-width="2" fill="none"/>
<text x="78.60" y="466.50" font-size="18.5" font-weight="bold" text-anchor="middle">0.0</text>
<text x="131.24" y="466.50" font-size="18.5" font-weight="bold" text-anchor="middle">0.2</text>
<text x="183.88" y="466.50" font-size="18.5" font-weight="bold" text-anchor="middle">0.4</text>
<text x="236.52" y="466.50" font-size="18.5" font-weight="bold" text-anchor="middle">0.6</text>
<text x="289.16" y="466.50" font-size="18.5" font-weight="bold" text-anchor="middle">0.8</text>
<text x="341.80" y="466.50" font-size="18.5" font-weight="bold" text-anchor="middle">1.0</text>
<text x="394.44" y="466.50" font-size="18.5" font-weight="bold" text-anchor="middle">1.2</text>
<text x="447.08" y="466.50" font-size="18.5" font-weight="bold" text-anchor="middle">1.4</text>
<text x="59.6" y="435.30" font-size="18.5" font-weight="bold" text-anchor="end">0.0</text>
<text x="59.6" y="340.38" font-size="18.5" font-weight="bold" text-anchor="end">0.2</text>
<text x="59.6" y="245.46" font-size="18.5" font-weight="bold" text-anchor="end">0.4</text>
<text x="59.6" y="150.54" font-size="18.5" font-weight="bold" text-anchor="end">0.6</text>
<text x="59.6" y="55.62" font-size="18.5" font-weight="bold" text-anchor="end">0.8</text>
<text transform="translate(18,279.00) rotate(-90)" font-size="18.5" font-weight="bold">PDF / a<tspan font-size="14" font-weight="normal" dy="-8.8" dx="1.1">−</tspan><tspan font-size="13.5" dx="0.1" dy="-1">1</tspan></text>
<text x="88.5" y="75.80" font-size="29.5" font-weight="bold">(a)</text>
<path d="M340.5,57.10 H386" stroke="#000" stroke-width="3"/>
<path d="M340.5,72.25 H386" stroke="#3659c8" stroke-width="3"/>
<path d="M340.5,87.10 H386" stroke="#3659c8" stroke-width="2.2" stroke-dasharray="6.5 6.2" stroke-dashoffset="0"/>
<path d="M340.5,102.15 H386" stroke="#3659c8" stroke-width="2.2" stroke-dasharray="1.9 2.9 5 2.9" stroke-dashoffset="0"/>
<path d="M340.5,116.90 H386" stroke="#3659c8" stroke-width="2.2" stroke-dasharray="7.9 3.2 1.9 2.9 1.9 2.9 1.9 2.9" stroke-dashoffset="15.9"/>
<text x="390.45" y="62.05" font-size="14" font-weight="bold" letter-spacing="0.33">40 tracers</text>
<text x="390.45" y="77.20" font-size="14" font-weight="bold" letter-spacing="0.33" fill="#3659c8">10 tracers</text>
<text x="390" y="92.05" font-size="15.5" font-style="italic" font-family='"Liberation Serif", serif' fill="#3659c8">τ</text>
<path d="M402.2,86.40 H410.8 M406.5,84.00 V89.40 M402.2,91.30 H410.8" stroke="#3659c8" stroke-width="1.15"/>
<text x="417.5" y="92.05" font-size="14" font-weight="bold" fill="#3659c8">10 %</text>
<text x="390" y="107.10" font-size="15.5" font-style="italic" font-family='"Liberation Serif", serif' fill="#3659c8">τ</text>
<path d="M402.2,101.45 H410.8 M406.5,99.05 V104.45 M402.2,106.35 H410.8" stroke="#3659c8" stroke-width="1.15"/>
<text x="417.5" y="107.10" font-size="14" font-weight="bold" fill="#3659c8">20 %</text>
<text x="390" y="121.85" font-size="15.5" font-style="italic" font-family='"Liberation Serif", serif' fill="#3659c8">τ</text>
<path d="M402.2,116.20 H410.8 M406.5,113.80 V119.20 M402.2,121.10 H410.8" stroke="#3659c8" stroke-width="1.15"/>
<text x="417.5" y="121.85" font-size="14" font-weight="bold" fill="#3659c8">50 %</text>
<text x="276.8" y="398.20" font-size="16.5" font-family='"Liberation Serif", serif' fill="#3659c8">Δ</text>
<text x="292" y="398.20" font-size="16" font-weight="bold" fill="#3659c8">modal age</text>
<text x="276.8" y="421.30" font-size="16.5" font-family='"Liberation Serif", serif' fill="#3659c8">Δ</text>
<text x="292" y="421.30" font-size="16" font-weight="bold" fill="#3659c8">amplitude</text>
<path d="M377.2,391.65 H387.2 M377.2,395.05 H387.2" stroke="#3659c8" stroke-width="1.4"/>
<path d="M395.1,393.55 H404.8 M399.95,388.90 V398.20" stroke="#3659c8" stroke-width="1.5"/>
<text x="405.1" y="398.20" font-size="16" font-weight="bold" fill="#3659c8">2.5 %</text>
<path d="M373.1,415.30 H383.1 M373.1,418.70 H383.1" stroke="#3659c8" stroke-width="1.4"/>
<text x="388.9" y="421.30" font-size="16" font-weight="bold" fill="#3659c8">-0.03 %</text>
<clipPath id="c1"><rect x="69.0" y="552.1" width="404.4" height="417.6"/></clipPath>
<g clip-path="url(#c1)" fill="none" stroke-linejoin="round">
<path d="M85.2,950.8 L87.2,950.8 L89.1,950.7 L89.1,950.7 L89.7,950.7 L90.3,950.7 L90.9,950.6 L91.4,950.5 L92.0,950.4 L92.6,950.2 L93.2,950.0 L93.7,949.8 L94.3,949.5 L94.9,949.2 L95.5,948.8 L96.0,948.3 L96.6,947.8 L97.2,947.2 L97.8,946.5 L98.3,945.7 L98.9,944.9 L99.5,943.9 L100.1,942.9 L100.6,941.8 L101.2,940.6 L101.8,939.2 L102.4,937.8 L102.9,936.4 L103.5,934.8 L104.1,933.1 L104.7,931.3 L105.2,929.5 L105.8,927.5 L106.4,925.5 L107.0,923.4 L107.5,921.2 L108.1,919.0 L108.7,916.6 L109.3,914.3 L109.8,911.8 L110.4,909.3 L111.0,906.7 L111.6,904.1 L112.1,901.4 L112.7,898.7 L113.3,895.9 L113.9,893.1 L114.4,890.3 L115.0,887.4 L115.6,884.5 L116.2,881.5 L116.7,878.6 L117.3,875.6 L117.9,872.6 L118.5,869.6 L119.0,866.6 L119.6,863.6 L120.2,860.6 L120.8,857.5 L121.3,854.5 L121.9,851.5 L122.5,848.5 L123.1,845.5 L123.6,842.5 L124.2,839.5 L124.8,836.5 L125.4,833.5 L125.9,830.6 L126.5,827.6 L127.1,824.7 L127.7,821.8 L128.2,819.0 L128.8,816.1 L129.4,813.3 L130.0,810.5 L130.5,807.7 L131.1,805.0 L131.7,802.3 L132.3,799.6 L132.8,797.0 L133.4,794.3 L134.0,791.7 L134.6,789.2 L135.1,786.7 L135.7,784.2 L136.3,781.7 L136.9,779.3 L137.4,776.9 L138.0,774.5 L138.6,772.2 L139.2,769.9 L139.7,767.7 L140.3,765.4 L140.9,763.3 L141.5,761.1 L142.0,759.0 L142.6,756.9 L143.2,754.9 L143.8,752.9 L144.3,750.9 L144.9,748.9 L145.5,747.0 L146.1,745.2 L146.6,743.3 L147.2,741.5 L147.8,739.8 L148.4,738.0 L148.9,736.3 L149.5,734.7 L150.1,733.0 L150.7,731.4 L151.2,729.9 L151.8,728.3 L152.4,726.8 L153.0,725.3 L153.5,723.9 L154.1,722.5 L154.7,721.1 L155.3,719.8 L155.8,718.4 L156.4,717.2 L157.0,715.9 L157.6,714.7 L160.2,709.4 L162.9,704.6 L165.5,700.4 L168.2,696.8 L170.8,693.6 L173.5,690.8 L176.1,688.5 L178.8,686.5 L181.4,684.9 L184.1,683.7 L186.8,682.7 L189.4,682.1 L192.1,681.6 L194.7,681.5 L197.4,681.5 L200.0,681.7 L202.7,682.2 L205.3,682.8 L208.0,683.5 L210.6,684.4 L213.3,685.4 L216.0,686.5 L218.6,687.8 L221.3,689.1 L223.9,690.5 L226.6,692.0 L229.2,693.6 L231.9,695.2 L234.5,696.9 L237.2,698.6 L239.8,700.4 L242.5,702.2 L245.1,704.1 L247.8,706.0 L250.5,707.9 L253.1,709.8 L255.8,711.7 L258.4,713.7 L261.1,715.7 L263.7,717.6 L266.4,719.6 L269.0,721.6 L271.7,723.6 L274.3,725.6 L277.0,727.6 L279.6,729.6 L282.3,731.6 L285.0,733.5 L287.6,735.5 L290.3,737.5 L292.9,739.4 L295.6,741.3 L298.2,743.3 L300.9,745.2 L303.5,747.1 L306.2,749.0 L308.8,750.9 L311.5,752.7 L314.2,754.6 L316.8,756.4 L319.5,758.2 L322.1,760.0 L324.8,761.8 L327.4,763.6 L330.1,765.3 L332.7,767.0 L335.4,768.8 L338.0,770.5 L340.7,772.1 L343.3,773.8 L346.0,775.5 L348.7,777.1 L351.3,778.7 L354.0,780.3 L356.6,781.9 L359.3,783.4 L361.9,785.0 L364.6,786.5 L367.2,788.0 L369.9,789.5 L372.5,791.0 L375.2,792.5 L377.9,793.9 L380.5,795.4 L383.2,796.8 L385.8,798.2 L388.5,799.6 L391.1,800.9 L393.8,802.3 L396.4,803.6 L399.1,804.9 L401.7,806.2 L404.4,807.5 L407.0,808.8 L409.7,810.1 L412.4,811.3 L415.0,812.5 L417.7,813.8 L420.3,815.0 L423.0,816.2 L425.6,817.3 L428.3,818.5 L430.9,819.7 L433.6,820.8 L436.2,821.9 L438.9,823.0 L441.6,824.1 L444.2,825.2 L446.9,826.3 L449.5,827.3 L452.2,828.4 L454.8,829.4 L457.5,830.5 L460.1,831.5 L462.8,832.5 L465.4,833.5 L468.1,834.5 L470.7,835.4 L473.4,836.4" stroke="#000" stroke-width="2.5"/>
<path d="M85.2,950.8 L87.2,950.8 L89.1,950.8 L89.1,950.8 L89.7,950.8 L90.3,950.8 L90.9,950.7 L91.4,950.7 L92.0,950.7 L92.6,950.6 L93.2,950.5 L93.7,950.4 L94.3,950.3 L94.9,950.1 L95.5,949.9 L96.0,949.6 L96.6,949.3 L97.2,949.0 L97.8,948.6 L98.3,948.1 L98.9,947.6 L99.5,947.0 L100.1,946.3 L100.6,945.5 L101.2,944.7 L101.8,943.8 L102.4,942.8 L102.9,941.7 L103.5,940.6 L104.1,939.3 L104.7,938.0 L105.2,936.6 L105.8,935.1 L106.4,933.5 L107.0,931.8 L107.5,930.1 L108.1,928.3 L108.7,926.4 L109.3,924.4 L109.8,922.4 L110.4,920.3 L111.0,918.1 L111.6,915.9 L112.1,913.6 L112.7,911.2 L113.3,908.8 L113.9,906.3 L114.4,903.8 L115.0,901.3 L115.6,898.7 L116.2,896.1 L116.7,893.4 L117.3,890.7 L117.9,888.0 L118.5,885.3 L119.0,882.5 L119.6,879.7 L120.2,876.9 L120.8,874.1 L121.3,871.2 L121.9,868.4 L122.5,865.5 L123.1,862.7 L123.6,859.8 L124.2,857.0 L124.8,854.1 L125.4,851.2 L125.9,848.4 L126.5,845.6 L127.1,842.7 L127.7,839.9 L128.2,837.1 L128.8,834.3 L129.4,831.5 L130.0,828.8 L130.5,826.0 L131.1,823.3 L131.7,820.6 L132.3,817.9 L132.8,815.3 L133.4,812.6 L134.0,810.0 L134.6,807.4 L135.1,804.9 L135.7,802.3 L136.3,799.8 L136.9,797.3 L137.4,794.9 L138.0,792.5 L138.6,790.1 L139.2,787.7 L139.7,785.4 L140.3,783.1 L140.9,780.8 L141.5,778.6 L142.0,776.4 L142.6,774.2 L143.2,772.1 L143.8,770.0 L144.3,767.9 L144.9,765.8 L145.5,763.8 L146.1,761.9 L146.6,759.9 L147.2,758.0 L147.8,756.1 L148.4,754.2 L148.9,752.4 L149.5,750.6 L150.1,748.9 L150.7,747.1 L151.2,745.5 L151.8,743.8 L152.4,742.2 L153.0,740.5 L153.5,739.0 L154.1,737.4 L154.7,735.9 L155.3,734.4 L155.8,733.0 L156.4,731.6 L157.0,730.2 L157.6,728.8 L160.2,722.9 L162.9,717.5 L165.5,712.7 L168.2,708.4 L170.8,704.7 L173.5,701.3 L176.1,698.4 L178.8,695.9 L181.4,693.8 L184.1,692.1 L186.8,690.6 L189.4,689.5 L192.1,688.7 L194.7,688.1 L197.4,687.7 L200.0,687.6 L202.7,687.7 L205.3,687.9 L208.0,688.3 L210.6,688.9 L213.3,689.7 L216.0,690.5 L218.6,691.5 L221.3,692.6 L223.9,693.8 L226.6,695.1 L229.2,696.4 L231.9,697.9 L234.5,699.4 L237.2,701.0 L239.8,702.6 L242.5,704.3 L245.1,706.0 L247.8,707.7 L250.5,709.5 L253.1,711.3 L255.8,713.2 L258.4,715.1 L261.1,716.9 L263.7,718.8 L266.4,720.7 L269.0,722.7 L271.7,724.6 L274.3,726.5 L277.0,728.5 L279.6,730.4 L282.3,732.3 L285.0,734.3 L287.6,736.2 L290.3,738.1 L292.9,740.1 L295.6,742.0 L298.2,743.9 L300.9,745.8 L303.5,747.7 L306.2,749.5 L308.8,751.4 L311.5,753.2 L314.2,755.1 L316.8,756.9 L319.5,758.7 L322.1,760.5 L324.8,762.3 L327.4,764.1 L330.1,765.8 L332.7,767.6 L335.4,769.3 L338.0,771.0 L340.7,772.7 L343.3,774.4 L346.0,776.0 L348.7,777.7 L351.3,779.3 L354.0,780.9 L356.6,782.5 L359.3,784.1 L361.9,785.6 L364.6,787.2 L367.2,788.7 L369.9,790.2 L372.5,791.7 L375.2,793.2 L377.9,794.7 L380.5,796.1 L383.2,797.5 L385.8,799.0 L388.5,800.4 L391.1,801.7 L393.8,803.1 L396.4,804.5 L399.1,805.8 L401.7,807.1 L404.4,808.4 L407.0,809.7 L409.7,811.0 L412.4,812.3 L415.0,813.5 L417.7,814.8 L420.3,816.0 L423.0,817.2 L425.6,818.4 L428.3,819.6 L430.9,820.8 L433.6,821.9 L436.2,823.1 L438.9,824.2 L441.6,825.3 L444.2,826.4 L446.9,827.5 L449.5,828.6 L452.2,829.7 L454.8,830.7 L457.5,831.8 L460.1,832.8 L462.8,833.8 L465.4,834.8 L468.1,835.8 L470.7,836.8 L473.4,837.8" stroke="#3659c8" stroke-width="3"/>
<path d="M85.2,949.7 L87.2,947.5 L89.1,943.2 L89.1,943.2 L89.7,941.4 L90.3,939.5 L90.9,937.3 L91.4,934.9 L92.0,932.2 L92.6,929.3 L93.2,926.2 L93.7,922.9 L94.3,919.3 L94.9,915.5 L95.5,911.5 L96.0,907.4 L96.6,903.0 L97.2,898.5 L97.8,893.8 L98.3,889.0 L98.9,884.0 L99.5,879.0 L100.1,873.8 L100.6,868.5 L101.2,863.2 L101.8,857.7 L102.4,852.3 L102.9,846.7 L103.5,841.2 L104.1,835.6 L104.7,829.9 L105.2,824.3 L105.8,818.7 L106.4,813.1 L107.0,807.5 L107.5,801.9 L108.1,796.4 L108.7,790.9 L109.3,785.4 L109.8,780.0 L110.4,774.6 L111.0,769.3 L111.6,764.0 L112.1,758.9 L112.7,753.7 L113.3,748.7 L113.9,743.7 L114.4,738.8 L115.0,734.0 L115.6,729.3 L116.2,724.6 L116.7,720.1 L117.3,715.6 L117.9,711.2 L118.5,706.9 L119.0,702.7 L119.6,698.6 L120.2,694.5 L120.8,690.6 L121.3,686.7 L121.9,682.9 L122.5,679.3 L123.1,675.7 L123.6,672.1 L124.2,668.7 L124.8,665.4 L125.4,662.1 L125.9,659.0 L126.5,655.9 L127.1,652.9 L127.7,650.0 L128.2,647.2 L128.8,644.4 L129.4,641.7 L130.0,639.2 L130.5,636.6 L131.1,634.2 L131.7,631.8 L132.3,629.5 L132.8,627.3 L133.4,625.2 L134.0,623.1 L134.6,621.1 L135.1,619.2 L135.7,617.3 L136.3,615.5 L136.9,613.8 L137.4,612.1 L138.0,610.5 L138.6,608.9 L139.2,607.4 L139.7,606.0 L140.3,604.6 L140.9,603.3 L141.5,602.0 L142.0,600.8 L142.6,599.6 L143.2,598.5 L143.8,597.5 L144.3,596.5 L144.9,595.5 L145.5,594.6 L146.1,593.7 L146.6,592.9 L147.2,592.1 L147.8,591.4 L148.4,590.7 L148.9,590.0 L149.5,589.4 L150.1,588.9 L150.7,588.3 L151.2,587.8 L151.8,587.4 L152.4,587.0 L153.0,586.6 L153.5,586.2 L154.1,585.9 L154.7,585.6 L155.3,585.4 L155.8,585.1 L156.4,585.0 L157.0,584.8 L157.6,584.7 L160.2,584.4 L162.9,584.7 L165.5,585.4 L168.2,586.6 L170.8,588.1 L173.5,590.0 L176.1,592.1 L178.8,594.5 L181.4,597.1 L184.1,600.0 L186.8,602.9 L189.4,606.0 L192.1,609.3 L194.7,612.6 L197.4,616.0 L200.0,619.5 L202.7,623.1 L205.3,626.6 L208.0,630.3 L210.6,633.9 L213.3,637.6 L216.0,641.2 L218.6,644.9 L221.3,648.5 L223.9,652.2 L226.6,655.8 L229.2,659.4 L231.9,663.0 L234.5,666.6 L237.2,670.1 L239.8,673.6 L242.5,677.1 L245.1,680.5 L247.8,683.9 L250.5,687.3 L253.1,690.6 L255.8,693.8 L258.4,697.1 L261.1,700.3 L263.7,703.4 L266.4,706.5 L269.0,709.6 L271.7,712.6 L274.3,715.6 L277.0,718.5 L279.6,721.4 L282.3,724.3 L285.0,727.1 L287.6,729.9 L290.3,732.6 L292.9,735.3 L295.6,737.9 L298.2,740.5 L300.9,743.1 L303.5,745.6 L306.2,748.1 L308.8,750.5 L311.5,753.0 L314.2,755.3 L316.8,757.7 L319.5,760.0 L322.1,762.2 L324.8,764.5 L327.4,766.7 L330.1,768.8 L332.7,770.9 L335.4,773.0 L338.0,775.1 L340.7,777.1 L343.3,779.1 L346.0,781.1 L348.7,783.0 L351.3,784.9 L354.0,786.8 L356.6,788.7 L359.3,790.5 L361.9,792.3 L364.6,794.1 L367.2,795.9 L369.9,797.6 L372.5,799.3 L375.2,801.0 L377.9,802.7 L380.5,804.3 L383.2,805.9 L385.8,807.5 L388.5,809.1 L391.1,810.7 L393.8,812.2 L396.4,813.7 L399.1,815.2 L401.7,816.7 L404.4,818.1 L407.0,819.5 L409.7,821.0 L412.4,822.4 L415.0,823.7 L417.7,825.1 L420.3,826.4 L423.0,827.8 L425.6,829.1 L428.3,830.3 L430.9,831.6 L433.6,832.9 L436.2,834.1 L438.9,835.3 L441.6,836.5 L444.2,837.7 L446.9,838.9 L449.5,840.1 L452.2,841.2 L454.8,842.4 L457.5,843.5 L460.1,844.6 L462.8,845.7 L465.4,846.8 L468.1,847.8 L470.7,848.9 L473.4,849.9" stroke="#3659c8" stroke-width="2.2" stroke-dasharray="7.9 3.2 1.9 2.9 1.9 2.9 1.9 2.9"/>
<path d="M85.2,950.8 L87.2,950.8 L89.1,950.8 L89.1,950.8 L89.7,950.8 L90.3,950.8 L90.9,950.7 L91.4,950.7 L92.0,950.6 L92.6,950.5 L93.2,950.4 L93.7,950.2 L94.3,950.0 L94.9,949.7 L95.5,949.3 L96.0,948.9 L96.6,948.4 L97.2,947.8 L97.8,947.0 L98.3,946.2 L98.9,945.2 L99.5,944.1 L100.1,942.9 L100.6,941.6 L101.2,940.1 L101.8,938.5 L102.4,936.8 L102.9,934.9 L103.5,932.9 L104.1,930.8 L104.7,928.6 L105.2,926.2 L105.8,923.7 L106.4,921.1 L107.0,918.4 L107.5,915.5 L108.1,912.6 L108.7,909.6 L109.3,906.4 L109.8,903.2 L110.4,900.0 L111.0,896.6 L111.6,893.2 L112.1,889.7 L112.7,886.2 L113.3,882.6 L113.9,879.0 L114.4,875.3 L115.0,871.6 L115.6,867.9 L116.2,864.1 L116.7,860.4 L117.3,856.6 L117.9,852.8 L118.5,849.0 L119.0,845.2 L119.6,841.4 L120.2,837.6 L120.8,833.9 L121.3,830.1 L121.9,826.4 L122.5,822.6 L123.1,818.9 L123.6,815.3 L124.2,811.6 L124.8,808.0 L125.4,804.4 L125.9,800.9 L126.5,797.4 L127.1,793.9 L127.7,790.5 L128.2,787.1 L128.8,783.7 L129.4,780.4 L130.0,777.1 L130.5,773.9 L131.1,770.7 L131.7,767.6 L132.3,764.5 L132.8,761.5 L133.4,758.5 L134.0,755.6 L134.6,752.7 L135.1,749.9 L135.7,747.1 L136.3,744.3 L136.9,741.6 L137.4,739.0 L138.0,736.4 L138.6,733.9 L139.2,731.4 L139.7,729.0 L140.3,726.6 L140.9,724.2 L141.5,721.9 L142.0,719.7 L142.6,717.5 L143.2,715.3 L143.8,713.2 L144.3,711.2 L144.9,709.2 L145.5,707.2 L146.1,705.3 L146.6,703.4 L147.2,701.6 L147.8,699.8 L148.4,698.1 L148.9,696.4 L149.5,694.8 L150.1,693.1 L150.7,691.6 L151.2,690.1 L151.8,688.6 L152.4,687.1 L153.0,685.7 L153.5,684.3 L154.1,683.0 L154.7,681.7 L155.3,680.5 L155.8,679.3 L156.4,678.1 L157.0,676.9 L157.6,675.8 L160.2,671.1 L162.9,667.1 L165.5,663.7 L168.2,660.9 L170.8,658.6 L173.5,656.9 L176.1,655.5 L178.8,654.6 L181.4,654.0 L184.1,653.7 L186.8,653.8 L189.4,654.1 L192.1,654.7 L194.7,655.5 L197.4,656.5 L200.0,657.7 L202.7,659.1 L205.3,660.6 L208.0,662.2 L210.6,664.0 L213.3,665.9 L216.0,667.8 L218.6,669.8 L221.3,671.9 L223.9,674.1 L226.6,676.3 L229.2,678.6 L231.9,680.9 L234.5,683.2 L237.2,685.6 L239.8,688.0 L242.5,690.4 L245.1,692.8 L247.8,695.2 L250.5,697.6 L253.1,700.1 L255.8,702.5 L258.4,704.9 L261.1,707.4 L263.7,709.8 L266.4,712.2 L269.0,714.6 L271.7,716.9 L274.3,719.3 L277.0,721.6 L279.6,724.0 L282.3,726.3 L285.0,728.6 L287.6,730.8 L290.3,733.1 L292.9,735.3 L295.6,737.5 L298.2,739.7 L300.9,741.9 L303.5,744.0 L306.2,746.1 L308.8,748.2 L311.5,750.3 L314.2,752.4 L316.8,754.4 L319.5,756.4 L322.1,758.4 L324.8,760.3 L327.4,762.3 L330.1,764.2 L332.7,766.1 L335.4,767.9 L338.0,769.8 L340.7,771.6 L343.3,773.4 L346.0,775.1 L348.7,776.9 L351.3,778.6 L354.0,780.3 L356.6,782.0 L359.3,783.7 L361.9,785.3 L364.6,786.9 L367.2,788.5 L369.9,790.1 L372.5,791.7 L375.2,793.2 L377.9,794.7 L380.5,796.2 L383.2,797.7 L385.8,799.2 L388.5,800.6 L391.1,802.0 L393.8,803.5 L396.4,804.8 L399.1,806.2 L401.7,807.6 L404.4,808.9 L407.0,810.2 L409.7,811.5 L412.4,812.8 L415.0,814.1 L417.7,815.3 L420.3,816.6 L423.0,817.8 L425.6,819.0 L428.3,820.2 L430.9,821.4 L433.6,822.5 L436.2,823.7 L438.9,824.8 L441.6,825.9 L444.2,827.0 L446.9,828.1 L449.5,829.2 L452.2,830.3 L454.8,831.3 L457.5,832.4 L460.1,833.4 L462.8,834.4 L465.4,835.4 L468.1,836.4 L470.7,837.4 L473.4,838.3" stroke="#3659c8" stroke-width="2.2" stroke-dasharray="1.9 2.9 5 2.9"/>
<path d="M85.2,950.8 L87.2,950.8 L89.1,950.8 L89.1,950.8 L89.7,950.8 L90.3,950.7 L90.9,950.7 L91.4,950.7 L92.0,950.6 L92.6,950.5 L93.2,950.4 L93.7,950.2 L94.3,950.0 L94.9,949.8 L95.5,949.5 L96.0,949.1 L96.6,948.7 L97.2,948.2 L97.8,947.6 L98.3,947.0 L98.9,946.3 L99.5,945.5 L100.1,944.6 L100.6,943.6 L101.2,942.5 L101.8,941.3 L102.4,940.1 L102.9,938.7 L103.5,937.2 L104.1,935.6 L104.7,934.0 L105.2,932.2 L105.8,930.4 L106.4,928.4 L107.0,926.4 L107.5,924.3 L108.1,922.1 L108.7,919.8 L109.3,917.4 L109.8,915.0 L110.4,912.5 L111.0,909.9 L111.6,907.3 L112.1,904.6 L112.7,901.8 L113.3,899.0 L113.9,896.2 L114.4,893.3 L115.0,890.4 L115.6,887.4 L116.2,884.4 L116.7,881.4 L117.3,878.3 L117.9,875.3 L118.5,872.2 L119.0,869.1 L119.6,866.0 L120.2,862.8 L120.8,859.7 L121.3,856.5 L121.9,853.4 L122.5,850.3 L123.1,847.1 L123.6,844.0 L124.2,840.9 L124.8,837.8 L125.4,834.7 L125.9,831.6 L126.5,828.5 L127.1,825.5 L127.7,822.5 L128.2,819.5 L128.8,816.5 L129.4,813.5 L130.0,810.6 L130.5,807.7 L131.1,804.8 L131.7,802.0 L132.3,799.1 L132.8,796.3 L133.4,793.6 L134.0,790.9 L134.6,788.2 L135.1,785.5 L135.7,782.9 L136.3,780.3 L136.9,777.7 L137.4,775.2 L138.0,772.7 L138.6,770.3 L139.2,767.9 L139.7,765.5 L140.3,763.2 L140.9,760.9 L141.5,758.6 L142.0,756.4 L142.6,754.2 L143.2,752.0 L143.8,749.9 L144.3,747.8 L144.9,745.8 L145.5,743.8 L146.1,741.8 L146.6,739.9 L147.2,738.0 L147.8,736.1 L148.4,734.3 L148.9,732.5 L149.5,730.7 L150.1,729.0 L150.7,727.3 L151.2,725.7 L151.8,724.1 L152.4,722.5 L153.0,720.9 L153.5,719.4 L154.1,718.0 L154.7,716.5 L155.3,715.1 L155.8,713.7 L156.4,712.4 L157.0,711.0 L157.6,709.7 L160.2,704.2 L162.9,699.2 L165.5,694.9 L168.2,691.1 L170.8,687.7 L173.5,684.9 L176.1,682.5 L178.8,680.5 L181.4,678.9 L184.1,677.6 L186.8,676.7 L189.4,676.1 L192.1,675.7 L194.7,675.6 L197.4,675.7 L200.0,676.0 L202.7,676.5 L205.3,677.2 L208.0,678.1 L210.6,679.0 L213.3,680.2 L216.0,681.4 L218.6,682.8 L221.3,684.2 L223.9,685.8 L226.6,687.4 L229.2,689.1 L231.9,690.9 L234.5,692.7 L237.2,694.6 L239.8,696.5 L242.5,698.4 L245.1,700.4 L247.8,702.4 L250.5,704.4 L253.1,706.5 L255.8,708.6 L258.4,710.7 L261.1,712.8 L263.7,714.9 L266.4,717.0 L269.0,719.1 L271.7,721.2 L274.3,723.3 L277.0,725.4 L279.6,727.5 L282.3,729.6 L285.0,731.7 L287.6,733.8 L290.3,735.9 L292.9,737.9 L295.6,740.0 L298.2,742.0 L300.9,744.0 L303.5,746.0 L306.2,748.0 L308.8,750.0 L311.5,751.9 L314.2,753.9 L316.8,755.8 L319.5,757.7 L322.1,759.6 L324.8,761.5 L327.4,763.3 L330.1,765.1 L332.7,767.0 L335.4,768.8 L338.0,770.5 L340.7,772.3 L343.3,774.0 L346.0,775.8 L348.7,777.5 L351.3,779.1 L354.0,780.8 L356.6,782.5 L359.3,784.1 L361.9,785.7 L364.6,787.3 L367.2,788.9 L369.9,790.4 L372.5,792.0 L375.2,793.5 L377.9,795.0 L380.5,796.5 L383.2,798.0 L385.8,799.4 L388.5,800.8 L391.1,802.3 L393.8,803.7 L396.4,805.0 L399.1,806.4 L401.7,807.8 L404.4,809.1 L407.0,810.4 L409.7,811.7 L412.4,813.0 L415.0,814.3 L417.7,815.6 L420.3,816.8 L423.0,818.0 L425.6,819.3 L428.3,820.5 L430.9,821.6 L433.6,822.8 L436.2,824.0 L438.9,825.1 L441.6,826.3 L444.2,827.4 L446.9,828.5 L449.5,829.6 L452.2,830.7 L454.8,831.7 L457.5,832.8 L460.1,833.8 L462.8,834.9 L465.4,835.9 L468.1,836.9 L470.7,837.9 L473.4,838.9" stroke="#3659c8" stroke-width="2.2" stroke-dasharray="6.5 6.2"/>
<path d="M85.2,950.8 L87.2,950.8 L89.1,950.8 L89.1,950.8 L89.7,950.7 L90.3,950.7 L90.9,950.7 L91.4,950.6 L92.0,950.6 L92.6,950.5 L93.2,950.4 L93.7,950.2 L94.3,950.1 L94.9,949.9 L95.5,949.6 L96.0,949.4 L96.6,949.1 L97.2,948.7 L97.8,948.3 L98.3,947.9 L98.9,947.3 L99.5,946.8 L100.1,946.1 L100.6,945.4 L101.2,944.7 L101.8,943.9 L102.4,943.0 L102.9,942.0 L103.5,941.0 L104.1,939.9 L104.7,938.8 L105.2,937.5 L105.8,936.2 L106.4,934.9 L107.0,933.4 L107.5,932.0 L108.1,930.4 L108.7,928.8 L109.3,927.1 L109.8,925.4 L110.4,923.6 L111.0,921.7 L111.6,919.8 L112.1,917.9 L112.7,915.9 L113.3,913.8 L113.9,911.7 L114.4,909.6 L115.0,907.4 L115.6,905.2 L116.2,902.9 L116.7,900.7 L117.3,898.3 L117.9,896.0 L118.5,893.6 L119.0,891.2 L119.6,888.8 L120.2,886.4 L120.8,884.0 L121.3,881.5 L121.9,879.0 L122.5,876.5 L123.1,874.0 L123.6,871.5 L124.2,869.0 L124.8,866.5 L125.4,864.0 L125.9,861.5 L126.5,858.9 L127.1,856.4 L127.7,853.9 L128.2,851.4 L128.8,848.9 L129.4,846.4 L130.0,844.0 L130.5,841.5 L131.1,839.0 L131.7,836.6 L132.3,834.1 L132.8,831.7 L133.4,829.3 L134.0,826.9 L134.6,824.6 L135.1,822.2 L135.7,819.9 L136.3,817.6 L136.9,815.3 L137.4,813.0 L138.0,810.8 L138.6,808.5 L139.2,806.3 L139.7,804.2 L140.3,802.0 L140.9,799.9 L141.5,797.8 L142.0,795.7 L142.6,793.6 L143.2,791.6 L143.8,789.6 L144.3,787.6 L144.9,785.6 L145.5,783.7 L146.1,781.8 L146.6,779.9 L147.2,778.0 L147.8,776.2 L148.4,774.4 L148.9,772.6 L149.5,770.9 L150.1,769.1 L150.7,767.4 L151.2,765.8 L151.8,764.1 L152.4,762.5 L153.0,760.9 L153.5,759.3 L154.1,757.8 L154.7,756.2 L155.3,754.8 L155.8,753.3 L156.4,751.8 L157.0,750.4 L157.6,749.0 L160.2,742.9 L162.9,737.3 L165.5,732.2 L168.2,727.6 L170.8,723.4 L173.5,719.7 L176.1,716.3 L178.8,713.3 L181.4,710.7 L184.1,708.5 L186.8,706.5 L189.4,704.9 L192.1,703.5 L194.7,702.4 L197.4,701.5 L200.0,700.9 L202.7,700.5 L205.3,700.2 L208.0,700.2 L210.6,700.3 L213.3,700.6 L216.0,701.0 L218.6,701.5 L221.3,702.2 L223.9,703.0 L226.6,703.8 L229.2,704.8 L231.9,705.9 L234.5,707.0 L237.2,708.2 L239.8,709.5 L242.5,710.9 L245.1,712.3 L247.8,713.7 L250.5,715.2 L253.1,716.8 L255.8,718.3 L258.4,719.9 L261.1,721.6 L263.7,723.2 L266.4,724.9 L269.0,726.6 L271.7,728.3 L274.3,730.1 L277.0,731.8 L279.6,733.6 L282.3,735.3 L285.0,737.1 L287.6,738.9 L290.3,740.6 L292.9,742.4 L295.6,744.2 L298.2,745.9 L300.9,747.7 L303.5,749.5 L306.2,751.2 L308.8,753.0 L311.5,754.7 L314.2,756.5 L316.8,758.2 L319.5,759.9 L322.1,761.6 L324.8,763.3 L327.4,765.0 L330.1,766.7 L332.7,768.4 L335.4,770.0 L338.0,771.7 L340.7,773.3 L343.3,774.9 L346.0,776.5 L348.7,778.1 L351.3,779.7 L354.0,781.3 L356.6,782.8 L359.3,784.3 L361.9,785.9 L364.6,787.4 L367.2,788.9 L369.9,790.4 L372.5,791.8 L375.2,793.3 L377.9,794.7 L380.5,796.2 L383.2,797.6 L385.8,799.0 L388.5,800.3 L391.1,801.7 L393.8,803.1 L396.4,804.4 L399.1,805.7 L401.7,807.1 L404.4,808.4 L407.0,809.7 L409.7,810.9 L412.4,812.2 L415.0,813.4 L417.7,814.7 L420.3,815.9 L423.0,817.1 L425.6,818.3 L428.3,819.5 L430.9,820.7 L433.6,821.8 L436.2,823.0 L438.9,824.1 L441.6,825.2 L444.2,826.3 L446.9,827.4 L449.5,828.5 L452.2,829.6 L454.8,830.6 L457.5,831.7 L460.1,832.7 L462.8,833.8 L465.4,834.8 L468.1,835.8 L470.7,836.8 L473.4,837.8" stroke="#3659c8" stroke-width="2.2" stroke-dasharray="6.5 6.2"/>
<path d="M85.2,950.8 L87.2,950.8 L89.1,950.8 L89.1,950.8 L89.7,950.8 L90.3,950.8 L90.9,950.8 L91.4,950.8 L92.0,950.7 L92.6,950.7 L93.2,950.7 L93.7,950.6 L94.3,950.5 L94.9,950.5 L95.5,950.4 L96.0,950.2 L96.6,950.1 L97.2,949.9 L97.8,949.6 L98.3,949.4 L98.9,949.1 L99.5,948.7 L100.1,948.3 L100.6,947.9 L101.2,947.4 L101.8,946.9 L102.4,946.3 L102.9,945.6 L103.5,944.9 L104.1,944.1 L104.7,943.3 L105.2,942.4 L105.8,941.4 L106.4,940.4 L107.0,939.3 L107.5,938.1 L108.1,936.9 L108.7,935.6 L109.3,934.3 L109.8,932.9 L110.4,931.4 L111.0,929.9 L111.6,928.3 L112.1,926.7 L112.7,925.0 L113.3,923.3 L113.9,921.5 L114.4,919.7 L115.0,917.8 L115.6,915.9 L116.2,914.0 L116.7,912.0 L117.3,909.9 L117.9,907.9 L118.5,905.8 L119.0,903.6 L119.6,901.5 L120.2,899.3 L120.8,897.1 L121.3,894.9 L121.9,892.6 L122.5,890.3 L123.1,888.1 L123.6,885.8 L124.2,883.4 L124.8,881.1 L125.4,878.8 L125.9,876.5 L126.5,874.1 L127.1,871.8 L127.7,869.4 L128.2,867.1 L128.8,864.7 L129.4,862.4 L130.0,860.0 L130.5,857.7 L131.1,855.3 L131.7,853.0 L132.3,850.7 L132.8,848.4 L133.4,846.1 L134.0,843.8 L134.6,841.5 L135.1,839.3 L135.7,837.0 L136.3,834.8 L136.9,832.6 L137.4,830.4 L138.0,828.2 L138.6,826.0 L139.2,823.9 L139.7,821.7 L140.3,819.6 L140.9,817.5 L141.5,815.5 L142.0,813.4 L142.6,811.4 L143.2,809.4 L143.8,807.4 L144.3,805.4 L144.9,803.5 L145.5,801.6 L146.1,799.7 L146.6,797.8 L147.2,796.0 L147.8,794.1 L148.4,792.3 L148.9,790.5 L149.5,788.8 L150.1,787.1 L150.7,785.4 L151.2,783.7 L151.8,782.0 L152.4,780.4 L153.0,778.8 L153.5,777.2 L154.1,775.6 L154.7,774.1 L155.3,772.6 L155.8,771.1 L156.4,769.6 L157.0,768.2 L157.6,766.7 L160.2,760.5 L162.9,754.7 L165.5,749.4 L168.2,744.6 L170.8,740.1 L173.5,736.1 L176.1,732.5 L178.8,729.3 L181.4,726.4 L184.1,723.9 L186.8,721.6 L189.4,719.7 L192.1,718.1 L194.7,716.7 L197.4,715.5 L200.0,714.6 L202.7,713.8 L205.3,713.3 L208.0,713.0 L210.6,712.8 L213.3,712.8 L216.0,712.9 L218.6,713.2 L221.3,713.6 L223.9,714.1 L226.6,714.7 L229.2,715.4 L231.9,716.2 L234.5,717.1 L237.2,718.1 L239.8,719.1 L242.5,720.2 L245.1,721.3 L247.8,722.6 L250.5,723.8 L253.1,725.1 L255.8,726.5 L258.4,727.9 L261.1,729.3 L263.7,730.7 L266.4,732.2 L269.0,733.7 L271.7,735.2 L274.3,736.7 L277.0,738.3 L279.6,739.8 L282.3,741.4 L285.0,743.0 L287.6,744.5 L290.3,746.1 L292.9,747.7 L295.6,749.3 L298.2,750.9 L300.9,752.5 L303.5,754.1 L306.2,755.7 L308.8,757.3 L311.5,758.9 L314.2,760.5 L316.8,762.1 L319.5,763.6 L322.1,765.2 L324.8,766.8 L327.4,768.3 L330.1,769.9 L332.7,771.4 L335.4,772.9 L338.0,774.4 L340.7,775.9 L343.3,777.4 L346.0,778.9 L348.7,780.4 L351.3,781.9 L354.0,783.3 L356.6,784.7 L359.3,786.2 L361.9,787.6 L364.6,789.0 L367.2,790.4 L369.9,791.8 L372.5,793.1 L375.2,794.5 L377.9,795.8 L380.5,797.2 L383.2,798.5 L385.8,799.8 L388.5,801.1 L391.1,802.4 L393.8,803.6 L396.4,804.9 L399.1,806.1 L401.7,807.4 L404.4,808.6 L407.0,809.8 L409.7,811.0 L412.4,812.2 L415.0,813.4 L417.7,814.5 L420.3,815.7 L423.0,816.8 L425.6,817.9 L428.3,819.0 L430.9,820.2 L433.6,821.2 L436.2,822.3 L438.9,823.4 L441.6,824.5 L444.2,825.5 L446.9,826.5 L449.5,827.6 L452.2,828.6 L454.8,829.6 L457.5,830.6 L460.1,831.6 L462.8,832.6 L465.4,833.5 L468.1,834.5 L470.7,835.4 L473.4,836.4" stroke="#3659c8" stroke-width="2.2" stroke-dasharray="1.9 2.9 5 2.9"/>
<path d="M85.2,950.8 L87.2,950.8 L89.1,950.8 L89.1,950.8 L89.7,950.8 L90.3,950.8 L90.9,950.8 L91.4,950.8 L92.0,950.8 L92.6,950.8 L93.2,950.8 L93.7,950.8 L94.3,950.8 L94.9,950.8 L95.5,950.8 L96.0,950.7 L96.6,950.7 L97.2,950.7 L97.8,950.6 L98.3,950.6 L98.9,950.5 L99.5,950.4 L100.1,950.3 L100.6,950.1 L101.2,950.0 L101.8,949.8 L102.4,949.6 L102.9,949.3 L103.5,949.0 L104.1,948.7 L104.7,948.4 L105.2,948.0 L105.8,947.5 L106.4,947.0 L107.0,946.5 L107.5,945.9 L108.1,945.3 L108.7,944.6 L109.3,943.9 L109.8,943.1 L110.4,942.3 L111.0,941.4 L111.6,940.5 L112.1,939.5 L112.7,938.5 L113.3,937.4 L113.9,936.3 L114.4,935.1 L115.0,933.9 L115.6,932.6 L116.2,931.3 L116.7,930.0 L117.3,928.6 L117.9,927.2 L118.5,925.7 L119.0,924.2 L119.6,922.7 L120.2,921.1 L120.8,919.5 L121.3,917.8 L121.9,916.2 L122.5,914.5 L123.1,912.7 L123.6,911.0 L124.2,909.2 L124.8,907.4 L125.4,905.6 L125.9,903.8 L126.5,901.9 L127.1,900.1 L127.7,898.2 L128.2,896.3 L128.8,894.4 L129.4,892.5 L130.0,890.6 L130.5,888.6 L131.1,886.7 L131.7,884.8 L132.3,882.8 L132.8,880.9 L133.4,879.0 L134.0,877.0 L134.6,875.1 L135.1,873.1 L135.7,871.2 L136.3,869.3 L136.9,867.3 L137.4,865.4 L138.0,863.5 L138.6,861.6 L139.2,859.7 L139.7,857.8 L140.3,856.0 L140.9,854.1 L141.5,852.2 L142.0,850.4 L142.6,848.6 L143.2,846.7 L143.8,844.9 L144.3,843.1 L144.9,841.4 L145.5,839.6 L146.1,837.9 L146.6,836.1 L147.2,834.4 L147.8,832.7 L148.4,831.0 L148.9,829.4 L149.5,827.7 L150.1,826.1 L150.7,824.5 L151.2,822.9 L151.8,821.3 L152.4,819.7 L153.0,818.2 L153.5,816.7 L154.1,815.1 L154.7,813.7 L155.3,812.2 L155.8,810.7 L156.4,809.3 L157.0,807.9 L157.6,806.5 L160.2,800.3 L162.9,794.5 L165.5,789.0 L168.2,784.0 L170.8,779.3 L173.5,775.0 L176.1,771.0 L178.8,767.4 L181.4,764.1 L184.1,761.0 L186.8,758.3 L189.4,755.8 L192.1,753.6 L194.7,751.7 L197.4,749.9 L200.0,748.4 L202.7,747.1 L205.3,746.0 L208.0,745.0 L210.6,744.2 L213.3,743.6 L216.0,743.1 L218.6,742.7 L221.3,742.5 L223.9,742.4 L226.6,742.4 L229.2,742.5 L231.9,742.7 L234.5,743.0 L237.2,743.4 L239.8,743.8 L242.5,744.4 L245.1,744.9 L247.8,745.6 L250.5,746.3 L253.1,747.0 L255.8,747.8 L258.4,748.7 L261.1,749.6 L263.7,750.5 L266.4,751.4 L269.0,752.4 L271.7,753.4 L274.3,754.5 L277.0,755.5 L279.6,756.6 L282.3,757.7 L285.0,758.8 L287.6,760.0 L290.3,761.1 L292.9,762.3 L295.6,763.4 L298.2,764.6 L300.9,765.8 L303.5,767.0 L306.2,768.2 L308.8,769.3 L311.5,770.5 L314.2,771.7 L316.8,772.9 L319.5,774.2 L322.1,775.4 L324.8,776.6 L327.4,777.7 L330.1,778.9 L332.7,780.1 L335.4,781.3 L338.0,782.5 L340.7,783.7 L343.3,784.9 L346.0,786.0 L348.7,787.2 L351.3,788.4 L354.0,789.5 L356.6,790.7 L359.3,791.8 L361.9,792.9 L364.6,794.1 L367.2,795.2 L369.9,796.3 L372.5,797.4 L375.2,798.5 L377.9,799.6 L380.5,800.7 L383.2,801.8 L385.8,802.8 L388.5,803.9 L391.1,804.9 L393.8,806.0 L396.4,807.0 L399.1,808.0 L401.7,809.1 L404.4,810.1 L407.0,811.1 L409.7,812.1 L412.4,813.0 L415.0,814.0 L417.7,815.0 L420.3,815.9 L423.0,816.9 L425.6,817.8 L428.3,818.8 L430.9,819.7 L433.6,820.6 L436.2,821.5 L438.9,822.4 L441.6,823.3 L444.2,824.2 L446.9,825.1 L449.5,825.9 L452.2,826.8 L454.8,827.7 L457.5,828.5 L460.1,829.4 L462.8,830.2 L465.4,831.0 L468.1,831.8 L470.7,832.6 L473.4,833.4" stroke="#3659c8" stroke-width="2.2" stroke-dasharray="7.9 3.2 1.9 2.9 1.9 2.9 1.9 2.9"/>
</g>
<path d="M474,552.1 H69.0 V969.7 H474" fill="none" stroke="#000" stroke-width="2"/>
<rect x="472" y="551.1" width="2" height="419.6" fill="#858585"/>
<path d="M78.60,969.7 V952.70 M78.60,552.1 V569.10 M91.76,969.7 V960.90 M91.76,552.1 V560.90 M104.92,969.7 V960.90 M104.92,552.1 V560.90 M118.08,969.7 V960.90 M118.08,552.1 V560.90 M131.24,969.7 V952.70 M131.24,552.1 V569.10 M144.40,969.7 V960.90 M144.40,552.1 V560.90 M157.56,969.7 V960.90 M157.56,552.1 V560.90 M170.72,969.7 V960.90 M170.72,552.1 V560.90 M183.88,969.7 V952.70 M183.88,552.1 V569.10 M197.04,969.7 V960.90 M197.04,552.1 V560.90 M210.20,969.7 V960.90 M210.20,552.1 V560.90 M223.36,969.7 V960.90 M223.36,552.1 V560.90 M236.52,969.7 V952.70 M236.52,552.1 V569.10 M249.68,969.7 V960.90 M249.68,552.1 V560.90 M262.84,969.7 V960.90 M262.84,552.1 V560.90 M276.00,969.7 V960.90 M276.00,552.1 V560.90 M289.16,969.7 V952.70 M289.16,552.1 V569.10 M302.32,969.7 V960.90 M302.32,552.1 V560.90 M315.48,969.7 V960.90 M315.48,552.1 V560.90 M328.64,969.7 V960.90 M328.64,552.1 V560.90 M341.80,969.7 V952.70 M341.80,552.1 V569.10 M354.96,969.7 V960.90 M354.96,552.1 V560.90 M368.12,969.7 V960.90 M368.12,552.1 V560.90 M381.28,969.7 V960.90 M381.28,552.1 V560.90 M394.44,969.7 V952.70 M394.44,552.1 V569.10 M407.60,969.7 V960.90 M407.60,552.1 V560.90 M420.76,969.7 V960.90 M420.76,552.1 V560.90 M433.92,969.7 V960.90 M433.92,552.1 V560.90 M447.08,969.7 V952.70 M447.08,552.1 V569.10 M460.24,969.7 V960.90 M460.24,552.1 V560.90 M69.0,950.80 H86.00 M473.4,950.80 H456.40 M69.0,927.07 H77.80 M473.4,927.07 H464.60 M69.0,903.34 H77.80 M473.4,903.34 H464.60 M69.0,879.61 H77.80 M473.4,879.61 H464.60 M69.0,855.88 H86.00 M473.4,855.88 H456.40 M69.0,832.15 H77.80 M473.4,832.15 H464.60 M69.0,808.42 H77.80 M473.4,808.42 H464.60 M69.0,784.69 H77.80 M473.4,784.69 H464.60 M69.0,760.96 H86.00 M473.4,760.96 H456.40 M69.0,737.23 H77.80 M473.4,737.23 H464.60 M69.0,713.50 H77.80 M473.4,713.50 H464.60 M69.0,689.77 H77.80 M473.4,689.77 H464.60 M69.0,666.04 H86.00 M473.4,666.04 H456.40 M69.0,642.31 H77.80 M473.4,642.31 H464.60 M69.0,618.58 H77.80 M473.4,618.58 H464.60 M69.0,594.85 H77.80 M473.4,594.85 H464.60 M69.0,571.12 H86.00 M473.4,571.12 H456.40" stroke="#000" stroke-width="2" fill="none"/>
<text x="78.60" y="988.60" font-size="18.5" font-weight="bold" text-anchor="middle">0.0</text>
<text x="131.24" y="988.60" font-size="18.5" font-weight="bold" text-anchor="middle">0.2</text>
<text x="183.88" y="988.60" font-size="18.5" font-weight="bold" text-anchor="middle">0.4</text>
<text x="236.52" y="988.60" font-size="18.5" font-weight="bold" text-anchor="middle">0.6</text>
<text x="289.16" y="988.60" font-size="18.5" font-weight="bold" text-anchor="middle">0.8</text>
<text x="341.80" y="988.60" font-size="18.5" font-weight="bold" text-anchor="middle">1.0</text>
<text x="394.44" y="988.60" font-size="18.5" font-weight="bold" text-anchor="middle">1.2</text>
<text x="447.08" y="988.60" font-size="18.5" font-weight="bold" text-anchor="middle">1.4</text>
<text x="59.6" y="957.40" font-size="18.5" font-weight="bold" text-anchor="end">0.0</text>
<text x="59.6" y="862.48" font-size="18.5" font-weight="bold" text-anchor="end">0.2</text>
<text x="59.6" y="767.56" font-size="18.5" font-weight="bold" text-anchor="end">0.4</text>
<text x="59.6" y="672.64" font-size="18.5" font-weight="bold" text-anchor="end">0.6</text>
<text x="59.6" y="577.72" font-size="18.5" font-weight="bold" text-anchor="end">0.8</text>
<text transform="translate(18,801.10) rotate(-90)" font-size="18.5" font-weight="bold">PDF / a<tspan font-size="14" font-weight="normal" dy="-8.8" dx="1.1">−</tspan><tspan font-size="13.5" dx="0.1" dy="-1">1</tspan></text>
<text x="88.5" y="596.00" font-size="29.5" font-weight="bold">(b)</text>
<path d="M340.5,579.20 H386" stroke="#000" stroke-width="3"/>
<path d="M340.5,594.35 H386" stroke="#3659c8" stroke-width="3"/>
<path d="M340.5,609.20 H386" stroke="#3659c8" stroke-width="2.2" stroke-dasharray="6.5 6.2" stroke-dashoffset="0"/>
<path d="M340.5,624.25 H386" stroke="#3659c8" stroke-width="2.2" stroke-dasharray="1.9 2.9 5 2.9" stroke-dashoffset="0"/>
<path d="M340.5,639.00 H386" stroke="#3659c8" stroke-width="2.2" stroke-dasharray="7.9 3.2 1.9 2.9 1.9 2.9 1.9 2.9" stroke-dashoffset="15.9"/>
<text x="390.45" y="584.15" font-size="14" font-weight="bold" letter-spacing="0.33">40 tracers</text>
<text x="390.45" y="599.30" font-size="14" font-weight="bold" letter-spacing="0.33" fill="#3659c8">5 tracers</text>
<text x="390" y="614.15" font-size="15.5" font-style="italic" font-family='"Liberation Serif", serif' fill="#3659c8">τ</text>
<path d="M402.2,608.50 H410.8 M406.5,606.10 V611.50 M402.2,613.40 H410.8" stroke="#3659c8" stroke-width="1.15"/>
<text x="417.5" y="614.15" font-size="14" font-weight="bold" fill="#3659c8">10 %</text>
<text x="390" y="629.20" font-size="15.5" font-style="italic" font-family='"Liberation Serif", serif' fill="#3659c8">τ</text>
<path d="M402.2,623.55 H410.8 M406.5,621.15 V626.55 M402.2,628.45 H410.8" stroke="#3659c8" stroke-width="1.15"/>
<text x="417.5" y="629.20" font-size="14" font-weight="bold" fill="#3659c8">20 %</text>
<text x="390" y="643.95" font-size="15.5" font-style="italic" font-family='"Liberation Serif", serif' fill="#3659c8">τ</text>
<path d="M402.2,638.30 H410.8 M406.5,635.90 V641.30 M402.2,643.20 H410.8" stroke="#3659c8" stroke-width="1.15"/>
<text x="417.5" y="643.95" font-size="14" font-weight="bold" fill="#3659c8">50 %</text>
<text x="276.8" y="920.30" font-size="16.5" font-family='"Liberation Serif", serif' fill="#3659c8">Δ</text>
<text x="292" y="920.30" font-size="16" font-weight="bold" fill="#3659c8">modal age</text>
<text x="276.8" y="943.40" font-size="16.5" font-family='"Liberation Serif", serif' fill="#3659c8">Δ</text>
<text x="292" y="943.40" font-size="16" font-weight="bold" fill="#3659c8">amplitude</text>
<path d="M377.2,913.75 H387.2 M377.2,917.15 H387.2" stroke="#3659c8" stroke-width="1.4"/>
<path d="M395.1,915.65 H404.8 M399.95,911.00 V920.30" stroke="#3659c8" stroke-width="1.5"/>
<text x="405.1" y="920.30" font-size="16" font-weight="bold" fill="#3659c8">3.1 %</text>
<path d="M373.1,937.40 H383.1 M373.1,940.80 H383.1" stroke="#3659c8" stroke-width="1.4"/>
<text x="388.9" y="943.40" font-size="16" font-weight="bold" fill="#3659c8">-2.5 %</text>
<clipPath id="c2"><rect x="69.0" y="1074.2" width="404.4" height="417.60000000000014"/></clipPath>
<g clip-path="url(#c2)" fill="none" stroke-linejoin="round">
<path d="M85.2,1472.9 L87.2,1472.9 L89.1,1472.8 L89.1,1472.8 L89.7,1472.8 L90.3,1472.8 L90.9,1472.7 L91.4,1472.6 L92.0,1472.5 L92.6,1472.3 L93.2,1472.1 L93.7,1471.9 L94.3,1471.6 L94.9,1471.3 L95.5,1470.9 L96.0,1470.4 L96.6,1469.9 L97.2,1469.3 L97.8,1468.6 L98.3,1467.8 L98.9,1467.0 L99.5,1466.0 L100.1,1465.0 L100.6,1463.9 L101.2,1462.7 L101.8,1461.3 L102.4,1459.9 L102.9,1458.5 L103.5,1456.9 L104.1,1455.2 L104.7,1453.4 L105.2,1451.6 L105.8,1449.6 L106.4,1447.6 L107.0,1445.5 L107.5,1443.3 L108.1,1441.1 L108.7,1438.7 L109.3,1436.4 L109.8,1433.9 L110.4,1431.4 L111.0,1428.8 L111.6,1426.2 L112.1,1423.5 L112.7,1420.8 L113.3,1418.0 L113.9,1415.2 L114.4,1412.4 L115.0,1409.5 L115.6,1406.6 L116.2,1403.6 L116.7,1400.7 L117.3,1397.7 L117.9,1394.7 L118.5,1391.7 L119.0,1388.7 L119.6,1385.7 L120.2,1382.7 L120.8,1379.6 L121.3,1376.6 L121.9,1373.6 L122.5,1370.6 L123.1,1367.6 L123.6,1364.6 L124.2,1361.6 L124.8,1358.6 L125.4,1355.6 L125.9,1352.7 L126.5,1349.7 L127.1,1346.8 L127.7,1343.9 L128.2,1341.1 L128.8,1338.2 L129.4,1335.4 L130.0,1332.6 L130.5,1329.8 L131.1,1327.1 L131.7,1324.4 L132.3,1321.7 L132.8,1319.1 L133.4,1316.4 L134.0,1313.8 L134.6,1311.3 L135.1,1308.8 L135.7,1306.3 L136.3,1303.8 L136.9,1301.4 L137.4,1299.0 L138.0,1296.6 L138.6,1294.3 L139.2,1292.0 L139.7,1289.8 L140.3,1287.5 L140.9,1285.4 L141.5,1283.2 L142.0,1281.1 L142.6,1279.0 L143.2,1277.0 L143.8,1275.0 L144.3,1273.0 L144.9,1271.0 L145.5,1269.1 L146.1,1267.3 L146.6,1265.4 L147.2,1263.6 L147.8,1261.9 L148.4,1260.1 L148.9,1258.4 L149.5,1256.8 L150.1,1255.1 L150.7,1253.5 L151.2,1252.0 L151.8,1250.4 L152.4,1248.9 L153.0,1247.4 L153.5,1246.0 L154.1,1244.6 L154.7,1243.2 L155.3,1241.9 L155.8,1240.5 L156.4,1239.3 L157.0,1238.0 L157.6,1236.8 L160.2,1231.5 L162.9,1226.7 L165.5,1222.5 L168.2,1218.9 L170.8,1215.7 L173.5,1212.9 L176.1,1210.6 L178.8,1208.6 L181.4,1207.0 L184.1,1205.8 L186.8,1204.8 L189.4,1204.2 L192.1,1203.7 L194.7,1203.6 L197.4,1203.6 L200.0,1203.8 L202.7,1204.3 L205.3,1204.9 L208.0,1205.6 L210.6,1206.5 L213.3,1207.5 L216.0,1208.6 L218.6,1209.9 L221.3,1211.2 L223.9,1212.6 L226.6,1214.1 L229.2,1215.7 L231.9,1217.3 L234.5,1219.0 L237.2,1220.7 L239.8,1222.5 L242.5,1224.3 L245.1,1226.2 L247.8,1228.1 L250.5,1230.0 L253.1,1231.9 L255.8,1233.8 L258.4,1235.8 L261.1,1237.8 L263.7,1239.7 L266.4,1241.7 L269.0,1243.7 L271.7,1245.7 L274.3,1247.7 L277.0,1249.7 L279.6,1251.7 L282.3,1253.7 L285.0,1255.6 L287.6,1257.6 L290.3,1259.6 L292.9,1261.5 L295.6,1263.4 L298.2,1265.4 L300.9,1267.3 L303.5,1269.2 L306.2,1271.1 L308.8,1273.0 L311.5,1274.8 L314.2,1276.7 L316.8,1278.5 L319.5,1280.3 L322.1,1282.1 L324.8,1283.9 L327.4,1285.7 L330.1,1287.4 L332.7,1289.1 L335.4,1290.9 L338.0,1292.6 L340.7,1294.2 L343.3,1295.9 L346.0,1297.6 L348.7,1299.2 L351.3,1300.8 L354.0,1302.4 L356.6,1304.0 L359.3,1305.5 L361.9,1307.1 L364.6,1308.6 L367.2,1310.1 L369.9,1311.6 L372.5,1313.1 L375.2,1314.6 L377.9,1316.0 L380.5,1317.5 L383.2,1318.9 L385.8,1320.3 L388.5,1321.7 L391.1,1323.0 L393.8,1324.4 L396.4,1325.7 L399.1,1327.0 L401.7,1328.3 L404.4,1329.6 L407.0,1330.9 L409.7,1332.2 L412.4,1333.4 L415.0,1334.6 L417.7,1335.9 L420.3,1337.1 L423.0,1338.3 L425.6,1339.4 L428.3,1340.6 L430.9,1341.8 L433.6,1342.9 L436.2,1344.0 L438.9,1345.1 L441.6,1346.2 L444.2,1347.3 L446.9,1348.4 L449.5,1349.4 L452.2,1350.5 L454.8,1351.5 L457.5,1352.6 L460.1,1353.6 L462.8,1354.6 L465.4,1355.6 L468.1,1356.6 L470.7,1357.5 L473.4,1358.5" stroke="#000" stroke-width="2.5"/>
<path d="M85.2,1472.9 L87.2,1472.9 L89.1,1472.9 L89.1,1472.9 L89.7,1472.9 L90.3,1472.9 L90.9,1472.9 L91.4,1472.9 L92.0,1472.9 L92.6,1472.9 L93.2,1472.9 L93.7,1472.9 L94.3,1472.8 L94.9,1472.8 L95.5,1472.7 L96.0,1472.7 L96.6,1472.6 L97.2,1472.5 L97.8,1472.3 L98.3,1472.2 L98.9,1472.0 L99.5,1471.7 L100.1,1471.4 L100.6,1471.1 L101.2,1470.7 L101.8,1470.3 L102.4,1469.7 L102.9,1469.2 L103.5,1468.5 L104.1,1467.8 L104.7,1467.1 L105.2,1466.2 L105.8,1465.3 L106.4,1464.3 L107.0,1463.2 L107.5,1462.1 L108.1,1460.9 L108.7,1459.6 L109.3,1458.2 L109.8,1456.8 L110.4,1455.3 L111.0,1453.7 L111.6,1452.0 L112.1,1450.3 L112.7,1448.5 L113.3,1446.7 L113.9,1444.8 L114.4,1442.8 L115.0,1440.8 L115.6,1438.7 L116.2,1436.6 L116.7,1434.4 L117.3,1432.2 L117.9,1430.0 L118.5,1427.7 L119.0,1425.3 L119.6,1423.0 L120.2,1420.6 L120.8,1418.1 L121.3,1415.7 L121.9,1413.2 L122.5,1410.7 L123.1,1408.2 L123.6,1405.7 L124.2,1403.1 L124.8,1400.6 L125.4,1398.0 L125.9,1395.4 L126.5,1392.8 L127.1,1390.3 L127.7,1387.7 L128.2,1385.1 L128.8,1382.5 L129.4,1379.9 L130.0,1377.4 L130.5,1374.8 L131.1,1372.3 L131.7,1369.7 L132.3,1367.2 L132.8,1364.7 L133.4,1362.2 L134.0,1359.7 L134.6,1357.2 L135.1,1354.7 L135.7,1352.3 L136.3,1349.9 L136.9,1347.5 L137.4,1345.1 L138.0,1342.8 L138.6,1340.4 L139.2,1338.1 L139.7,1335.8 L140.3,1333.6 L140.9,1331.3 L141.5,1329.1 L142.0,1326.9 L142.6,1324.8 L143.2,1322.6 L143.8,1320.5 L144.3,1318.4 L144.9,1316.4 L145.5,1314.4 L146.1,1312.4 L146.6,1310.4 L147.2,1308.5 L147.8,1306.5 L148.4,1304.7 L148.9,1302.8 L149.5,1301.0 L150.1,1299.2 L150.7,1297.4 L151.2,1295.6 L151.8,1293.9 L152.4,1292.2 L153.0,1290.6 L153.5,1288.9 L154.1,1287.3 L154.7,1285.8 L155.3,1284.2 L155.8,1282.7 L156.4,1281.2 L157.0,1279.7 L157.6,1278.3 L160.2,1272.0 L162.9,1266.2 L165.5,1260.9 L168.2,1256.2 L170.8,1251.9 L173.5,1248.1 L176.1,1244.7 L178.8,1241.7 L181.4,1239.1 L184.1,1236.9 L186.8,1234.9 L189.4,1233.3 L192.1,1231.9 L194.7,1230.8 L197.4,1230.0 L200.0,1229.4 L202.7,1229.0 L205.3,1228.7 L208.0,1228.7 L210.6,1228.8 L213.3,1229.1 L216.0,1229.5 L218.6,1230.1 L221.3,1230.7 L223.9,1231.5 L226.6,1232.4 L229.2,1233.4 L231.9,1234.4 L234.5,1235.5 L237.2,1236.7 L239.8,1238.0 L242.5,1239.3 L245.1,1240.6 L247.8,1242.0 L250.5,1243.5 L253.1,1245.0 L255.8,1246.5 L258.4,1248.0 L261.1,1249.6 L263.7,1251.2 L266.4,1252.8 L269.0,1254.4 L271.7,1256.0 L274.3,1257.7 L277.0,1259.3 L279.6,1261.0 L282.3,1262.7 L285.0,1264.3 L287.6,1266.0 L290.3,1267.7 L292.9,1269.4 L295.6,1271.0 L298.2,1272.7 L300.9,1274.4 L303.5,1276.0 L306.2,1277.7 L308.8,1279.3 L311.5,1280.9 L314.2,1282.6 L316.8,1284.2 L319.5,1285.8 L322.1,1287.4 L324.8,1289.0 L327.4,1290.6 L330.1,1292.1 L332.7,1293.7 L335.4,1295.2 L338.0,1296.8 L340.7,1298.3 L343.3,1299.8 L346.0,1301.3 L348.7,1302.8 L351.3,1304.2 L354.0,1305.7 L356.6,1307.1 L359.3,1308.6 L361.9,1310.0 L364.6,1311.4 L367.2,1312.8 L369.9,1314.2 L372.5,1315.5 L375.2,1316.9 L377.9,1318.2 L380.5,1319.5 L383.2,1320.8 L385.8,1322.1 L388.5,1323.4 L391.1,1324.7 L393.8,1325.9 L396.4,1327.2 L399.1,1328.4 L401.7,1329.6 L404.4,1330.8 L407.0,1332.0 L409.7,1333.2 L412.4,1334.4 L415.0,1335.5 L417.7,1336.7 L420.3,1337.8 L423.0,1338.9 L425.6,1340.0 L428.3,1341.1 L430.9,1342.2 L433.6,1343.3 L436.2,1344.3 L438.9,1345.4 L441.6,1346.4 L444.2,1347.4 L446.9,1348.4 L449.5,1349.4 L452.2,1350.4 L454.8,1351.4 L457.5,1352.4 L460.1,1353.3 L462.8,1354.3 L465.4,1355.2 L468.1,1356.2 L470.7,1357.1 L473.4,1358.0" stroke="#3659c8" stroke-width="3"/>
<path d="M85.2,1471.5 L87.2,1469.1 L89.1,1464.8 L89.1,1464.8 L89.7,1463.1 L90.3,1461.2 L90.9,1459.2 L91.4,1456.9 L92.0,1454.4 L92.6,1451.8 L93.2,1448.9 L93.7,1445.8 L94.3,1442.6 L94.9,1439.1 L95.5,1435.5 L96.0,1431.8 L96.6,1427.8 L97.2,1423.8 L97.8,1419.6 L98.3,1415.3 L98.9,1410.8 L99.5,1406.3 L100.1,1401.6 L100.6,1396.9 L101.2,1392.1 L101.8,1387.3 L102.4,1382.3 L102.9,1377.4 L103.5,1372.4 L104.1,1367.4 L104.7,1362.3 L105.2,1357.3 L105.8,1352.2 L106.4,1347.2 L107.0,1342.1 L107.5,1337.1 L108.1,1332.1 L108.7,1327.1 L109.3,1322.1 L109.8,1317.2 L110.4,1312.3 L111.0,1307.5 L111.6,1302.7 L112.1,1298.0 L112.7,1293.3 L113.3,1288.7 L113.9,1284.1 L114.4,1279.6 L115.0,1275.2 L115.6,1270.9 L116.2,1266.6 L116.7,1262.3 L117.3,1258.2 L117.9,1254.1 L118.5,1250.1 L119.0,1246.2 L119.6,1242.3 L120.2,1238.6 L120.8,1234.9 L121.3,1231.2 L121.9,1227.7 L122.5,1224.2 L123.1,1220.8 L123.6,1217.5 L124.2,1214.3 L124.8,1211.1 L125.4,1208.0 L125.9,1205.0 L126.5,1202.0 L127.1,1199.2 L127.7,1196.4 L128.2,1193.6 L128.8,1191.0 L129.4,1188.4 L130.0,1185.9 L130.5,1183.4 L131.1,1181.1 L131.7,1178.8 L132.3,1176.5 L132.8,1174.3 L133.4,1172.2 L134.0,1170.2 L134.6,1168.2 L135.1,1166.3 L135.7,1164.4 L136.3,1162.6 L136.9,1160.8 L137.4,1159.2 L138.0,1157.5 L138.6,1155.9 L139.2,1154.4 L139.7,1152.9 L140.3,1151.5 L140.9,1150.2 L141.5,1148.8 L142.0,1147.6 L142.6,1146.4 L143.2,1145.2 L143.8,1144.1 L144.3,1143.0 L144.9,1142.0 L145.5,1141.0 L146.1,1140.0 L146.6,1139.1 L147.2,1138.3 L147.8,1137.5 L148.4,1136.7 L148.9,1135.9 L149.5,1135.2 L150.1,1134.6 L150.7,1133.9 L151.2,1133.3 L151.8,1132.8 L152.4,1132.3 L153.0,1131.8 L153.5,1131.3 L154.1,1130.9 L154.7,1130.5 L155.3,1130.1 L155.8,1129.8 L156.4,1129.5 L157.0,1129.2 L157.6,1129.0 L160.2,1128.1 L162.9,1127.9 L165.5,1128.0 L168.2,1128.6 L170.8,1129.6 L173.5,1130.9 L176.1,1132.4 L178.8,1134.3 L181.4,1136.3 L184.1,1138.6 L186.8,1141.0 L189.4,1143.6 L192.1,1146.4 L194.7,1149.2 L197.4,1152.1 L200.0,1155.1 L202.7,1158.2 L205.3,1161.3 L208.0,1164.5 L210.6,1167.8 L213.3,1171.0 L216.0,1174.3 L218.6,1177.5 L221.3,1180.8 L223.9,1184.1 L226.6,1187.4 L229.2,1190.7 L231.9,1193.9 L234.5,1197.2 L237.2,1200.4 L239.8,1203.6 L242.5,1206.8 L245.1,1209.9 L247.8,1213.1 L250.5,1216.2 L253.1,1219.2 L255.8,1222.3 L258.4,1225.3 L261.1,1228.2 L263.7,1231.2 L266.4,1234.1 L269.0,1236.9 L271.7,1239.7 L274.3,1242.5 L277.0,1245.3 L279.6,1248.0 L282.3,1250.7 L285.0,1253.3 L287.6,1255.9 L290.3,1258.5 L292.9,1261.0 L295.6,1263.5 L298.2,1266.0 L300.9,1268.4 L303.5,1270.8 L306.2,1273.2 L308.8,1275.5 L311.5,1277.8 L314.2,1280.0 L316.8,1282.2 L319.5,1284.4 L322.1,1286.6 L324.8,1288.7 L327.4,1290.8 L330.1,1292.9 L332.7,1294.9 L335.4,1296.9 L338.0,1298.9 L340.7,1300.8 L343.3,1302.7 L346.0,1304.6 L348.7,1306.5 L351.3,1308.3 L354.0,1310.1 L356.6,1311.9 L359.3,1313.7 L361.9,1315.4 L364.6,1317.2 L367.2,1318.8 L369.9,1320.5 L372.5,1322.2 L375.2,1323.8 L377.9,1325.4 L380.5,1327.0 L383.2,1328.5 L385.8,1330.1 L388.5,1331.6 L391.1,1333.1 L393.8,1334.6 L396.4,1336.1 L399.1,1337.5 L401.7,1338.9 L404.4,1340.3 L407.0,1341.7 L409.7,1343.1 L412.4,1344.5 L415.0,1345.8 L417.7,1347.1 L420.3,1348.4 L423.0,1349.7 L425.6,1351.0 L428.3,1352.2 L430.9,1353.5 L433.6,1354.7 L436.2,1355.9 L438.9,1357.1 L441.6,1358.3 L444.2,1359.5 L446.9,1360.6 L449.5,1361.7 L452.2,1362.9 L454.8,1364.0 L457.5,1365.1 L460.1,1366.1 L462.8,1367.2 L465.4,1368.3 L468.1,1369.3 L470.7,1370.3 L473.4,1371.4" stroke="#3659c8" stroke-width="2.2" stroke-dasharray="7.9 3.2 1.9 2.9 1.9 2.9 1.9 2.9"/>
<path d="M85.2,1472.9 L87.2,1472.9 L89.1,1472.8 L89.1,1472.8 L89.7,1472.8 L90.3,1472.8 L90.9,1472.7 L91.4,1472.6 L92.0,1472.5 L92.6,1472.3 L93.2,1472.1 L93.7,1471.9 L94.3,1471.6 L94.9,1471.3 L95.5,1470.9 L96.0,1470.4 L96.6,1469.9 L97.2,1469.3 L97.8,1468.6 L98.3,1467.8 L98.9,1467.0 L99.5,1466.0 L100.1,1465.0 L100.6,1463.9 L101.2,1462.7 L101.8,1461.3 L102.4,1459.9 L102.9,1458.5 L103.5,1456.9 L104.1,1455.2 L104.7,1453.4 L105.2,1451.6 L105.8,1449.6 L106.4,1447.6 L107.0,1445.5 L107.5,1443.3 L108.1,1441.1 L108.7,1438.7 L109.3,1436.4 L109.8,1433.9 L110.4,1431.4 L111.0,1428.8 L111.6,1426.2 L112.1,1423.5 L112.7,1420.8 L113.3,1418.0 L113.9,1415.2 L114.4,1412.4 L115.0,1409.5 L115.6,1406.6 L116.2,1403.6 L116.7,1400.7 L117.3,1397.7 L117.9,1394.7 L118.5,1391.7 L119.0,1388.7 L119.6,1385.7 L120.2,1382.7 L120.8,1379.6 L121.3,1376.6 L121.9,1373.6 L122.5,1370.6 L123.1,1367.6 L123.6,1364.6 L124.2,1361.6 L124.8,1358.6 L125.4,1355.6 L125.9,1352.7 L126.5,1349.7 L127.1,1346.8 L127.7,1343.9 L128.2,1341.1 L128.8,1338.2 L129.4,1335.4 L130.0,1332.6 L130.5,1329.8 L131.1,1327.1 L131.7,1324.4 L132.3,1321.7 L132.8,1319.1 L133.4,1316.4 L134.0,1313.8 L134.6,1311.3 L135.1,1308.8 L135.7,1306.3 L136.3,1303.8 L136.9,1301.4 L137.4,1299.0 L138.0,1296.6 L138.6,1294.3 L139.2,1292.0 L139.7,1289.8 L140.3,1287.5 L140.9,1285.4 L141.5,1283.2 L142.0,1281.1 L142.6,1279.0 L143.2,1277.0 L143.8,1275.0 L144.3,1273.0 L144.9,1271.0 L145.5,1269.1 L146.1,1267.3 L146.6,1265.4 L147.2,1263.6 L147.8,1261.9 L148.4,1260.1 L148.9,1258.4 L149.5,1256.8 L150.1,1255.1 L150.7,1253.5 L151.2,1252.0 L151.8,1250.4 L152.4,1248.9 L153.0,1247.4 L153.5,1246.0 L154.1,1244.6 L154.7,1243.2 L155.3,1241.9 L155.8,1240.5 L156.4,1239.3 L157.0,1238.0 L157.6,1236.8 L160.2,1231.5 L162.9,1226.7 L165.5,1222.5 L168.2,1218.9 L170.8,1215.7 L173.5,1212.9 L176.1,1210.6 L178.8,1208.6 L181.4,1207.0 L184.1,1205.8 L186.8,1204.8 L189.4,1204.2 L192.1,1203.7 L194.7,1203.6 L197.4,1203.6 L200.0,1203.8 L202.7,1204.3 L205.3,1204.9 L208.0,1205.6 L210.6,1206.5 L213.3,1207.5 L216.0,1208.6 L218.6,1209.9 L221.3,1211.2 L223.9,1212.6 L226.6,1214.1 L229.2,1215.7 L231.9,1217.3 L234.5,1219.0 L237.2,1220.7 L239.8,1222.5 L242.5,1224.3 L245.1,1226.2 L247.8,1228.1 L250.5,1230.0 L253.1,1231.9 L255.8,1233.8 L258.4,1235.8 L261.1,1237.8 L263.7,1239.7 L266.4,1241.7 L269.0,1243.7 L271.7,1245.7 L274.3,1247.7 L277.0,1249.7 L279.6,1251.7 L282.3,1253.7 L285.0,1255.6 L287.6,1257.6 L290.3,1259.6 L292.9,1261.5 L295.6,1263.4 L298.2,1265.4 L300.9,1267.3 L303.5,1269.2 L306.2,1271.1 L308.8,1273.0 L311.5,1274.8 L314.2,1276.7 L316.8,1278.5 L319.5,1280.3 L322.1,1282.1 L324.8,1283.9 L327.4,1285.7 L330.1,1287.4 L332.7,1289.1 L335.4,1290.9 L338.0,1292.6 L340.7,1294.2 L343.3,1295.9 L346.0,1297.6 L348.7,1299.2 L351.3,1300.8 L354.0,1302.4 L356.6,1304.0 L359.3,1305.5 L361.9,1307.1 L364.6,1308.6 L367.2,1310.1 L369.9,1311.6 L372.5,1313.1 L375.2,1314.6 L377.9,1316.0 L380.5,1317.5 L383.2,1318.9 L385.8,1320.3 L388.5,1321.7 L391.1,1323.0 L393.8,1324.4 L396.4,1325.7 L399.1,1327.0 L401.7,1328.3 L404.4,1329.6 L407.0,1330.9 L409.7,1332.2 L412.4,1333.4 L415.0,1334.6 L417.7,1335.9 L420.3,1337.1 L423.0,1338.3 L425.6,1339.4 L428.3,1340.6 L430.9,1341.8 L433.6,1342.9 L436.2,1344.0 L438.9,1345.1 L441.6,1346.2 L444.2,1347.3 L446.9,1348.4 L449.5,1349.4 L452.2,1350.5 L454.8,1351.5 L457.5,1352.6 L460.1,1353.6 L462.8,1354.6 L465.4,1355.6 L468.1,1356.6 L470.7,1357.5 L473.4,1358.5" stroke="#3659c8" stroke-width="2.2" stroke-dasharray="1.9 2.9 5 2.9"/>
<path d="M85.2,1472.9 L87.2,1472.9 L89.1,1472.9 L89.1,1472.9 L89.7,1472.9 L90.3,1472.9 L90.9,1472.9 L91.4,1472.9 L92.0,1472.8 L92.6,1472.8 L93.2,1472.8 L93.7,1472.7 L94.3,1472.6 L94.9,1472.5 L95.5,1472.4 L96.0,1472.2 L96.6,1472.0 L97.2,1471.7 L97.8,1471.4 L98.3,1471.0 L98.9,1470.6 L99.5,1470.1 L100.1,1469.6 L100.6,1468.9 L101.2,1468.2 L101.8,1467.4 L102.4,1466.6 L102.9,1465.6 L103.5,1464.6 L104.1,1463.5 L104.7,1462.3 L105.2,1461.0 L105.8,1459.7 L106.4,1458.2 L107.0,1456.7 L107.5,1455.0 L108.1,1453.3 L108.7,1451.5 L109.3,1449.7 L109.8,1447.7 L110.4,1445.7 L111.0,1443.6 L111.6,1441.5 L112.1,1439.3 L112.7,1437.0 L113.3,1434.6 L113.9,1432.2 L114.4,1429.8 L115.0,1427.3 L115.6,1424.8 L116.2,1422.2 L116.7,1419.5 L117.3,1416.9 L117.9,1414.2 L118.5,1411.4 L119.0,1408.7 L119.6,1405.9 L120.2,1403.1 L120.8,1400.3 L121.3,1397.5 L121.9,1394.6 L122.5,1391.7 L123.1,1388.9 L123.6,1386.0 L124.2,1383.1 L124.8,1380.3 L125.4,1377.4 L125.9,1374.5 L126.5,1371.6 L127.1,1368.8 L127.7,1365.9 L128.2,1363.1 L128.8,1360.3 L129.4,1357.5 L130.0,1354.7 L130.5,1351.9 L131.1,1349.1 L131.7,1346.4 L132.3,1343.7 L132.8,1341.0 L133.4,1338.3 L134.0,1335.7 L134.6,1333.0 L135.1,1330.4 L135.7,1327.9 L136.3,1325.3 L136.9,1322.8 L137.4,1320.3 L138.0,1317.9 L138.6,1315.4 L139.2,1313.0 L139.7,1310.7 L140.3,1308.3 L140.9,1306.0 L141.5,1303.7 L142.0,1301.5 L142.6,1299.3 L143.2,1297.1 L143.8,1294.9 L144.3,1292.8 L144.9,1290.7 L145.5,1288.7 L146.1,1286.7 L146.6,1284.7 L147.2,1282.7 L147.8,1280.8 L148.4,1278.9 L148.9,1277.1 L149.5,1275.3 L150.1,1273.5 L150.7,1271.7 L151.2,1270.0 L151.8,1268.3 L152.4,1266.6 L153.0,1265.0 L153.5,1263.4 L154.1,1261.8 L154.7,1260.3 L155.3,1258.8 L155.8,1257.3 L156.4,1255.8 L157.0,1254.4 L157.6,1253.0 L160.2,1247.0 L162.9,1241.5 L165.5,1236.6 L168.2,1232.3 L170.8,1228.4 L173.5,1225.0 L176.1,1222.1 L178.8,1219.6 L181.4,1217.4 L184.1,1215.6 L186.8,1214.1 L189.4,1213.0 L192.1,1212.1 L194.7,1211.5 L197.4,1211.1 L200.0,1211.0 L202.7,1211.0 L205.3,1211.2 L208.0,1211.7 L210.6,1212.2 L213.3,1212.9 L216.0,1213.8 L218.6,1214.8 L221.3,1215.8 L223.9,1217.0 L226.6,1218.3 L229.2,1219.6 L231.9,1221.1 L234.5,1222.6 L237.2,1224.1 L239.8,1225.7 L242.5,1227.4 L245.1,1229.1 L247.8,1230.8 L250.5,1232.6 L253.1,1234.4 L255.8,1236.2 L258.4,1238.1 L261.1,1239.9 L263.7,1241.8 L266.4,1243.7 L269.0,1245.6 L271.7,1247.5 L274.3,1249.4 L277.0,1251.3 L279.6,1253.3 L282.3,1255.2 L285.0,1257.1 L287.6,1259.0 L290.3,1260.9 L292.9,1262.8 L295.6,1264.7 L298.2,1266.6 L300.9,1268.5 L303.5,1270.3 L306.2,1272.2 L308.8,1274.0 L311.5,1275.8 L314.2,1277.7 L316.8,1279.5 L319.5,1281.3 L322.1,1283.0 L324.8,1284.8 L327.4,1286.5 L330.1,1288.3 L332.7,1290.0 L335.4,1291.7 L338.0,1293.4 L340.7,1295.0 L343.3,1296.7 L346.0,1298.3 L348.7,1300.0 L351.3,1301.6 L354.0,1303.2 L356.6,1304.7 L359.3,1306.3 L361.9,1307.8 L364.6,1309.3 L367.2,1310.9 L369.9,1312.3 L372.5,1313.8 L375.2,1315.3 L377.9,1316.7 L380.5,1318.2 L383.2,1319.6 L385.8,1321.0 L388.5,1322.4 L391.1,1323.7 L393.8,1325.1 L396.4,1326.4 L399.1,1327.7 L401.7,1329.0 L404.4,1330.3 L407.0,1331.6 L409.7,1332.9 L412.4,1334.1 L415.0,1335.4 L417.7,1336.6 L420.3,1337.8 L423.0,1339.0 L425.6,1340.2 L428.3,1341.3 L430.9,1342.5 L433.6,1343.6 L436.2,1344.8 L438.9,1345.9 L441.6,1347.0 L444.2,1348.1 L446.9,1349.1 L449.5,1350.2 L452.2,1351.3 L454.8,1352.3 L457.5,1353.3 L460.1,1354.4 L462.8,1355.4 L465.4,1356.4 L468.1,1357.3 L470.7,1358.3 L473.4,1359.3" stroke="#3659c8" stroke-width="2.2" stroke-dasharray="6.5 6.2"/>
<path d="M85.2,1472.9 L87.2,1472.9 L89.1,1472.9 L89.1,1472.9 L89.7,1472.9 L90.3,1472.9 L90.9,1472.8 L91.4,1472.8 L92.0,1472.8 L92.6,1472.7 L93.2,1472.7 L93.7,1472.6 L94.3,1472.5 L94.9,1472.4 L95.5,1472.3 L96.0,1472.1 L96.6,1471.9 L97.2,1471.7 L97.8,1471.4 L98.3,1471.1 L98.9,1470.8 L99.5,1470.4 L100.1,1470.0 L100.6,1469.5 L101.2,1469.0 L101.8,1468.5 L102.4,1467.8 L102.9,1467.2 L103.5,1466.4 L104.1,1465.7 L104.7,1464.8 L105.2,1463.9 L105.8,1463.0 L106.4,1462.0 L107.0,1460.9 L107.5,1459.8 L108.1,1458.6 L108.7,1457.4 L109.3,1456.1 L109.8,1454.8 L110.4,1453.4 L111.0,1451.9 L111.6,1450.4 L112.1,1448.9 L112.7,1447.3 L113.3,1445.7 L113.9,1444.0 L114.4,1442.3 L115.0,1440.5 L115.6,1438.7 L116.2,1436.9 L116.7,1435.0 L117.3,1433.1 L117.9,1431.2 L118.5,1429.2 L119.0,1427.2 L119.6,1425.2 L120.2,1423.2 L120.8,1421.1 L121.3,1419.0 L121.9,1416.9 L122.5,1414.8 L123.1,1412.7 L123.6,1410.5 L124.2,1408.3 L124.8,1406.2 L125.4,1404.0 L125.9,1401.8 L126.5,1399.6 L127.1,1397.4 L127.7,1395.2 L128.2,1393.0 L128.8,1390.8 L129.4,1388.6 L130.0,1386.4 L130.5,1384.2 L131.1,1382.0 L131.7,1379.8 L132.3,1377.6 L132.8,1375.4 L133.4,1373.2 L134.0,1371.1 L134.6,1368.9 L135.1,1366.8 L135.7,1364.7 L136.3,1362.5 L136.9,1360.4 L137.4,1358.3 L138.0,1356.3 L138.6,1354.2 L139.2,1352.2 L139.7,1350.1 L140.3,1348.1 L140.9,1346.1 L141.5,1344.1 L142.0,1342.2 L142.6,1340.2 L143.2,1338.3 L143.8,1336.4 L144.3,1334.5 L144.9,1332.7 L145.5,1330.8 L146.1,1329.0 L146.6,1327.2 L147.2,1325.4 L147.8,1323.6 L148.4,1321.9 L148.9,1320.2 L149.5,1318.5 L150.1,1316.8 L150.7,1315.1 L151.2,1313.5 L151.8,1311.9 L152.4,1310.3 L153.0,1308.7 L153.5,1307.2 L154.1,1305.6 L154.7,1304.1 L155.3,1302.6 L155.8,1301.2 L156.4,1299.7 L157.0,1298.3 L157.6,1296.9 L160.2,1290.7 L162.9,1285.0 L165.5,1279.7 L168.2,1274.8 L170.8,1270.4 L173.5,1266.3 L176.1,1262.6 L178.8,1259.2 L181.4,1256.2 L184.1,1253.5 L186.8,1251.1 L189.4,1249.0 L192.1,1247.2 L194.7,1245.6 L197.4,1244.3 L200.0,1243.2 L202.7,1242.3 L205.3,1241.6 L208.0,1241.0 L210.6,1240.7 L213.3,1240.5 L216.0,1240.4 L218.6,1240.5 L221.3,1240.7 L223.9,1241.0 L226.6,1241.5 L229.2,1242.0 L231.9,1242.6 L234.5,1243.4 L237.2,1244.2 L239.8,1245.0 L242.5,1246.0 L245.1,1247.0 L247.8,1248.1 L250.5,1249.2 L253.1,1250.4 L255.8,1251.6 L258.4,1252.8 L261.1,1254.1 L263.7,1255.4 L266.4,1256.8 L269.0,1258.2 L271.7,1259.6 L274.3,1261.0 L277.0,1262.5 L279.6,1263.9 L282.3,1265.4 L285.0,1266.9 L287.6,1268.4 L290.3,1269.9 L292.9,1271.4 L295.6,1272.9 L298.2,1274.5 L300.9,1276.0 L303.5,1277.5 L306.2,1279.0 L308.8,1280.6 L311.5,1282.1 L314.2,1283.6 L316.8,1285.2 L319.5,1286.7 L322.1,1288.2 L324.8,1289.7 L327.4,1291.2 L330.1,1292.7 L332.7,1294.2 L335.4,1295.7 L338.0,1297.2 L340.7,1298.6 L343.3,1300.1 L346.0,1301.5 L348.7,1303.0 L351.3,1304.4 L354.0,1305.8 L356.6,1307.2 L359.3,1308.6 L361.9,1310.0 L364.6,1311.4 L367.2,1312.8 L369.9,1314.1 L372.5,1315.5 L375.2,1316.8 L377.9,1318.1 L380.5,1319.4 L383.2,1320.7 L385.8,1322.0 L388.5,1323.3 L391.1,1324.6 L393.8,1325.8 L396.4,1327.1 L399.1,1328.3 L401.7,1329.5 L404.4,1330.7 L407.0,1331.9 L409.7,1333.1 L412.4,1334.3 L415.0,1335.5 L417.7,1336.6 L420.3,1337.8 L423.0,1338.9 L425.6,1340.0 L428.3,1341.1 L430.9,1342.2 L433.6,1343.3 L436.2,1344.4 L438.9,1345.5 L441.6,1346.5 L444.2,1347.6 L446.9,1348.6 L449.5,1349.6 L452.2,1350.7 L454.8,1351.7 L457.5,1352.7 L460.1,1353.6 L462.8,1354.6 L465.4,1355.6 L468.1,1356.5 L470.7,1357.5 L473.4,1358.4" stroke="#3659c8" stroke-width="2.2" stroke-dasharray="6.5 6.2"/>
<path d="M85.2,1472.9 L87.2,1472.9 L89.1,1472.9 L89.1,1472.9 L89.7,1472.9 L90.3,1472.9 L90.9,1472.9 L91.4,1472.9 L92.0,1472.9 L92.6,1472.9 L93.2,1472.9 L93.7,1472.9 L94.3,1472.9 L94.9,1472.9 L95.5,1472.9 L96.0,1472.8 L96.6,1472.8 L97.2,1472.8 L97.8,1472.7 L98.3,1472.7 L98.9,1472.6 L99.5,1472.5 L100.1,1472.3 L100.6,1472.2 L101.2,1472.0 L101.8,1471.8 L102.4,1471.5 L102.9,1471.2 L103.5,1470.8 L104.1,1470.5 L104.7,1470.0 L105.2,1469.5 L105.8,1469.0 L106.4,1468.4 L107.0,1467.7 L107.5,1467.0 L108.1,1466.2 L108.7,1465.4 L109.3,1464.5 L109.8,1463.5 L110.4,1462.5 L111.0,1461.4 L111.6,1460.3 L112.1,1459.0 L112.7,1457.8 L113.3,1456.4 L113.9,1455.1 L114.4,1453.6 L115.0,1452.1 L115.6,1450.6 L116.2,1449.0 L116.7,1447.3 L117.3,1445.6 L117.9,1443.9 L118.5,1442.1 L119.0,1440.3 L119.6,1438.4 L120.2,1436.5 L120.8,1434.6 L121.3,1432.6 L121.9,1430.6 L122.5,1428.5 L123.1,1426.5 L123.6,1424.4 L124.2,1422.3 L124.8,1420.1 L125.4,1418.0 L125.9,1415.8 L126.5,1413.6 L127.1,1411.4 L127.7,1409.2 L128.2,1407.0 L128.8,1404.8 L129.4,1402.5 L130.0,1400.3 L130.5,1398.1 L131.1,1395.8 L131.7,1393.6 L132.3,1391.3 L132.8,1389.1 L133.4,1386.9 L134.0,1384.6 L134.6,1382.4 L135.1,1380.2 L135.7,1378.0 L136.3,1375.8 L136.9,1373.6 L137.4,1371.4 L138.0,1369.3 L138.6,1367.1 L139.2,1365.0 L139.7,1362.9 L140.3,1360.8 L140.9,1358.7 L141.5,1356.6 L142.0,1354.5 L142.6,1352.5 L143.2,1350.5 L143.8,1348.5 L144.3,1346.5 L144.9,1344.6 L145.5,1342.6 L146.1,1340.7 L146.6,1338.8 L147.2,1336.9 L147.8,1335.1 L148.4,1333.2 L148.9,1331.4 L149.5,1329.7 L150.1,1327.9 L150.7,1326.1 L151.2,1324.4 L151.8,1322.7 L152.4,1321.1 L153.0,1319.4 L153.5,1317.8 L154.1,1316.2 L154.7,1314.6 L155.3,1313.0 L155.8,1311.5 L156.4,1310.0 L157.0,1308.5 L157.6,1307.0 L160.2,1300.5 L162.9,1294.5 L165.5,1289.0 L168.2,1283.9 L170.8,1279.2 L173.5,1275.0 L176.1,1271.2 L178.8,1267.7 L181.4,1264.6 L184.1,1261.8 L186.8,1259.3 L189.4,1257.1 L192.1,1255.2 L194.7,1253.6 L197.4,1252.2 L200.0,1251.0 L202.7,1250.1 L205.3,1249.3 L208.0,1248.8 L210.6,1248.4 L213.3,1248.1 L216.0,1248.0 L218.6,1248.1 L221.3,1248.2 L223.9,1248.5 L226.6,1248.9 L229.2,1249.4 L231.9,1250.0 L234.5,1250.7 L237.2,1251.4 L239.8,1252.2 L242.5,1253.1 L245.1,1254.0 L247.8,1255.0 L250.5,1256.1 L253.1,1257.2 L255.8,1258.3 L258.4,1259.5 L261.1,1260.7 L263.7,1261.9 L266.4,1263.2 L269.0,1264.5 L271.7,1265.8 L274.3,1267.1 L277.0,1268.5 L279.6,1269.8 L282.3,1271.2 L285.0,1272.6 L287.6,1274.0 L290.3,1275.4 L292.9,1276.8 L295.6,1278.2 L298.2,1279.6 L300.9,1281.1 L303.5,1282.5 L306.2,1283.9 L308.8,1285.3 L311.5,1286.7 L314.2,1288.1 L316.8,1289.5 L319.5,1290.9 L322.1,1292.3 L324.8,1293.7 L327.4,1295.1 L330.1,1296.5 L332.7,1297.9 L335.4,1299.2 L338.0,1300.6 L340.7,1301.9 L343.3,1303.3 L346.0,1304.6 L348.7,1305.9 L351.3,1307.2 L354.0,1308.5 L356.6,1309.8 L359.3,1311.1 L361.9,1312.4 L364.6,1313.7 L367.2,1314.9 L369.9,1316.2 L372.5,1317.4 L375.2,1318.6 L377.9,1319.8 L380.5,1321.0 L383.2,1322.2 L385.8,1323.4 L388.5,1324.6 L391.1,1325.7 L393.8,1326.9 L396.4,1328.0 L399.1,1329.1 L401.7,1330.3 L404.4,1331.4 L407.0,1332.5 L409.7,1333.5 L412.4,1334.6 L415.0,1335.7 L417.7,1336.7 L420.3,1337.8 L423.0,1338.8 L425.6,1339.8 L428.3,1340.8 L430.9,1341.9 L433.6,1342.8 L436.2,1343.8 L438.9,1344.8 L441.6,1345.8 L444.2,1346.7 L446.9,1347.7 L449.5,1348.6 L452.2,1349.5 L454.8,1350.5 L457.5,1351.4 L460.1,1352.3 L462.8,1353.2 L465.4,1354.0 L468.1,1354.9 L470.7,1355.8 L473.4,1356.6" stroke="#3659c8" stroke-width="2.2" stroke-dasharray="1.9 2.9 5 2.9"/>
<path d="M85.2,1472.9 L87.2,1472.9 L89.1,1472.9 L89.1,1472.9 L89.7,1472.9 L90.3,1472.9 L90.9,1472.9 L91.4,1472.9 L92.0,1472.9 L92.6,1472.9 L93.2,1472.9 L93.7,1472.9 L94.3,1472.9 L94.9,1472.9 L95.5,1472.9 L96.0,1472.9 L96.6,1472.9 L97.2,1472.9 L97.8,1472.9 L98.3,1472.9 L98.9,1472.9 L99.5,1472.9 L100.1,1472.9 L100.6,1472.9 L101.2,1472.9 L101.8,1472.9 L102.4,1472.9 L102.9,1472.8 L103.5,1472.8 L104.1,1472.8 L104.7,1472.7 L105.2,1472.6 L105.8,1472.5 L106.4,1472.4 L107.0,1472.3 L107.5,1472.1 L108.1,1471.9 L108.7,1471.7 L109.3,1471.4 L109.8,1471.0 L110.4,1470.7 L111.0,1470.3 L111.6,1469.8 L112.1,1469.3 L112.7,1468.7 L113.3,1468.0 L113.9,1467.3 L114.4,1466.6 L115.0,1465.7 L115.6,1464.9 L116.2,1463.9 L116.7,1462.9 L117.3,1461.9 L117.9,1460.7 L118.5,1459.6 L119.0,1458.3 L119.6,1457.0 L120.2,1455.7 L120.8,1454.3 L121.3,1452.8 L121.9,1451.3 L122.5,1449.7 L123.1,1448.1 L123.6,1446.5 L124.2,1444.8 L124.8,1443.0 L125.4,1441.3 L125.9,1439.5 L126.5,1437.6 L127.1,1435.7 L127.7,1433.8 L128.2,1431.9 L128.8,1429.9 L129.4,1428.0 L130.0,1426.0 L130.5,1423.9 L131.1,1421.9 L131.7,1419.8 L132.3,1417.8 L132.8,1415.7 L133.4,1413.6 L134.0,1411.5 L134.6,1409.4 L135.1,1407.3 L135.7,1405.2 L136.3,1403.1 L136.9,1401.0 L137.4,1398.9 L138.0,1396.8 L138.6,1394.7 L139.2,1392.6 L139.7,1390.5 L140.3,1388.4 L140.9,1386.3 L141.5,1384.3 L142.0,1382.2 L142.6,1380.2 L143.2,1378.1 L143.8,1376.1 L144.3,1374.1 L144.9,1372.2 L145.5,1370.2 L146.1,1368.2 L146.6,1366.3 L147.2,1364.4 L147.8,1362.5 L148.4,1360.6 L148.9,1358.7 L149.5,1356.9 L150.1,1355.1 L150.7,1353.3 L151.2,1351.5 L151.8,1349.7 L152.4,1348.0 L153.0,1346.3 L153.5,1344.6 L154.1,1342.9 L154.7,1341.2 L155.3,1339.6 L155.8,1338.0 L156.4,1336.4 L157.0,1334.8 L157.6,1333.3 L160.2,1326.4 L162.9,1320.0 L165.5,1314.1 L168.2,1308.6 L170.8,1303.6 L173.5,1299.0 L176.1,1294.8 L178.8,1291.0 L181.4,1287.5 L184.1,1284.4 L186.8,1281.6 L189.4,1279.0 L192.1,1276.8 L194.7,1274.9 L197.4,1273.2 L200.0,1271.7 L202.7,1270.5 L205.3,1269.4 L208.0,1268.5 L210.6,1267.8 L213.3,1267.3 L216.0,1266.9 L218.6,1266.7 L221.3,1266.6 L223.9,1266.6 L226.6,1266.7 L229.2,1266.9 L231.9,1267.2 L234.5,1267.6 L237.2,1268.1 L239.8,1268.6 L242.5,1269.2 L245.1,1269.9 L247.8,1270.6 L250.5,1271.4 L253.1,1272.2 L255.8,1273.1 L258.4,1274.0 L261.1,1274.9 L263.7,1275.9 L266.4,1276.9 L269.0,1277.9 L271.7,1279.0 L274.3,1280.0 L277.0,1281.1 L279.6,1282.2 L282.3,1283.3 L285.0,1284.5 L287.6,1285.6 L290.3,1286.7 L292.9,1287.9 L295.6,1289.1 L298.2,1290.2 L300.9,1291.4 L303.5,1292.6 L306.2,1293.7 L308.8,1294.9 L311.5,1296.1 L314.2,1297.2 L316.8,1298.4 L319.5,1299.6 L322.1,1300.7 L324.8,1301.9 L327.4,1303.0 L330.1,1304.2 L332.7,1305.3 L335.4,1306.5 L338.0,1307.6 L340.7,1308.7 L343.3,1309.9 L346.0,1311.0 L348.7,1312.1 L351.3,1313.2 L354.0,1314.3 L356.6,1315.4 L359.3,1316.4 L361.9,1317.5 L364.6,1318.6 L367.2,1319.6 L369.9,1320.7 L372.5,1321.7 L375.2,1322.7 L377.9,1323.7 L380.5,1324.7 L383.2,1325.7 L385.8,1326.7 L388.5,1327.7 L391.1,1328.7 L393.8,1329.7 L396.4,1330.6 L399.1,1331.6 L401.7,1332.5 L404.4,1333.4 L407.0,1334.4 L409.7,1335.3 L412.4,1336.2 L415.0,1337.1 L417.7,1338.0 L420.3,1338.8 L423.0,1339.7 L425.6,1340.6 L428.3,1341.4 L430.9,1342.3 L433.6,1343.1 L436.2,1343.9 L438.9,1344.8 L441.6,1345.6 L444.2,1346.4 L446.9,1347.2 L449.5,1348.0 L452.2,1348.8 L454.8,1349.5 L457.5,1350.3 L460.1,1351.1 L462.8,1351.8 L465.4,1352.6 L468.1,1353.3 L470.7,1354.0 L473.4,1354.8" stroke="#3659c8" stroke-width="2.2" stroke-dasharray="7.9 3.2 1.9 2.9 1.9 2.9 1.9 2.9"/>
</g>
<path d="M474,1074.2 H69.0 V1491.8000000000002 H474" fill="none" stroke="#000" stroke-width="2"/>
<rect x="472" y="1073.2" width="2" height="419.60000000000014" fill="#858585"/>
<path d="M78.60,1491.8000000000002 V1474.80 M78.60,1074.2 V1091.20 M91.76,1491.8000000000002 V1483.00 M91.76,1074.2 V1083.00 M104.92,1491.8000000000002 V1483.00 M104.92,1074.2 V1083.00 M118.08,1491.8000000000002 V1483.00 M118.08,1074.2 V1083.00 M131.24,1491.8000000000002 V1474.80 M131.24,1074.2 V1091.20 M144.40,1491.8000000000002 V1483.00 M144.40,1074.2 V1083.00 M157.56,1491.8000000000002 V1483.00 M157.56,1074.2 V1083.00 M170.72,1491.8000000000002 V1483.00 M170.72,1074.2 V1083.00 M183.88,1491.8000000000002 V1474.80 M183.88,1074.2 V1091.20 M197.04,1491.8000000000002 V1483.00 M197.04,1074.2 V1083.00 M210.20,1491.8000000000002 V1483.00 M210.20,1074.2 V1083.00 M223.36,1491.8000000000002 V1483.00 M223.36,1074.2 V1083.00 M236.52,1491.8000000000002 V1474.80 M236.52,1074.2 V1091.20 M249.68,1491.8000000000002 V1483.00 M249.68,1074.2 V1083.00 M262.84,1491.8000000000002 V1483.00 M262.84,1074.2 V1083.00 M276.00,1491.8000000000002 V1483.00 M276.00,1074.2 V1083.00 M289.16,1491.8000000000002 V1474.80 M289.16,1074.2 V1091.20 M302.32,1491.8000000000002 V1483.00 M302.32,1074.2 V1083.00 M315.48,1491.8000000000002 V1483.00 M315.48,1074.2 V1083.00 M328.64,1491.8000000000002 V1483.00 M328.64,1074.2 V1083.00 M341.80,1491.8000000000002 V1474.80 M341.80,1074.2 V1091.20 M354.96,1491.8000000000002 V1483.00 M354.96,1074.2 V1083.00 M368.12,1491.8000000000002 V1483.00 M368.12,1074.2 V1083.00 M381.28,1491.8000000000002 V1483.00 M381.28,1074.2 V1083.00 M394.44,1491.8000000000002 V1474.80 M394.44,1074.2 V1091.20 M407.60,1491.8000000000002 V1483.00 M407.60,1074.2 V1083.00 M420.76,1491.8000000000002 V1483.00 M420.76,1074.2 V1083.00 M433.92,1491.8000000000002 V1483.00 M433.92,1074.2 V1083.00 M447.08,1491.8000000000002 V1474.80 M447.08,1074.2 V1091.20 M460.24,1491.8000000000002 V1483.00 M460.24,1074.2 V1083.00 M69.0,1472.90 H86.00 M473.4,1472.90 H456.40 M69.0,1449.17 H77.80 M473.4,1449.17 H464.60 M69.0,1425.44 H77.80 M473.4,1425.44 H464.60 M69.0,1401.71 H77.80 M473.4,1401.71 H464.60 M69.0,1377.98 H86.00 M473.4,1377.98 H456.40 M69.0,1354.25 H77.80 M473.4,1354.25 H464.60 M69.0,1330.52 H77.80 M473.4,1330.52 H464.60 M69.0,1306.79 H77.80 M473.4,1306.79 H464.60 M69.0,1283.06 H86.00 M473.4,1283.06 H456.40 M69.0,1259.33 H77.80 M473.4,1259.33 H464.60 M69.0,1235.60 H77.80 M473.4,1235.60 H464.60 M69.0,1211.87 H77.80 M473.4,1211.87 H464.60 M69.0,1188.14 H86.00 M473.4,1188.14 H456.40 M69.0,1164.41 H77.80 M473.4,1164.41 H464.60 M69.0,1140.68 H77.80 M473.4,1140.68 H464.60 M69.0,1116.95 H77.80 M473.4,1116.95 H464.60 M69.0,1093.22 H86.00 M473.4,1093.22 H456.40" stroke="#000" stroke-width="2" fill="none"/>
<text x="78.60" y="1510.70" font-size="18.5" font-weight="bold" text-anchor="middle">0.0</text>
<text x="131.24" y="1510.70" font-size="18.5" font-weight="bold" text-anchor="middle">0.2</text>
<text x="183.88" y="1510.70" font-size="18.5" font-weight="bold" text-anchor="middle">0.4</text>
<text x="236.52" y="1510.70" font-size="18.5" font-weight="bold" text-anchor="middle">0.6</text>
<text x="289.16" y="1510.70" font-size="18.5" font-weight="bold" text-anchor="middle">0.8</text>
<text x="341.80" y="1510.70" font-size="18.5" font-weight="bold" text-anchor="middle">1.0</text>
<text x="394.44" y="1510.70" font-size="18.5" font-weight="bold" text-anchor="middle">1.2</text>
<text x="447.08" y="1510.70" font-size="18.5" font-weight="bold" text-anchor="middle">1.4</text>
<text x="59.6" y="1479.50" font-size="18.5" font-weight="bold" text-anchor="end">0.0</text>
<text x="59.6" y="1384.58" font-size="18.5" font-weight="bold" text-anchor="end">0.2</text>
<text x="59.6" y="1289.66" font-size="18.5" font-weight="bold" text-anchor="end">0.4</text>
<text x="59.6" y="1194.74" font-size="18.5" font-weight="bold" text-anchor="end">0.6</text>
<text x="59.6" y="1099.82" font-size="18.5" font-weight="bold" text-anchor="end">0.8</text>
<text transform="translate(18,1323.20) rotate(-90)" font-size="18.5" font-weight="bold">PDF / a<tspan font-size="14" font-weight="normal" dy="-8.8" dx="1.1">−</tspan><tspan font-size="13.5" dx="0.1" dy="-1">1</tspan></text>
<text x="88.5" y="1117.40" font-size="29.5" font-weight="bold">(c)</text>
<path d="M340.5,1101.30 H386" stroke="#000" stroke-width="3"/>
<path d="M340.5,1116.45 H386" stroke="#3659c8" stroke-width="3"/>
<path d="M340.5,1131.30 H386" stroke="#3659c8" stroke-width="2.2" stroke-dasharray="6.5 6.2" stroke-dashoffset="0"/>
<path d="M340.5,1146.35 H386" stroke="#3659c8" stroke-width="2.2" stroke-dasharray="1.9 2.9 5 2.9" stroke-dashoffset="0"/>
<path d="M340.5,1161.10 H386" stroke="#3659c8" stroke-width="2.2" stroke-dasharray="7.9 3.2 1.9 2.9 1.9 2.9 1.9 2.9" stroke-dashoffset="15.9"/>
<text x="390.45" y="1106.25" font-size="14" font-weight="bold" letter-spacing="0.33">40 tracers</text>
<text x="390.45" y="1121.40" font-size="14" font-weight="bold" letter-spacing="0.33" fill="#3659c8">3 tracers</text>
<text x="390" y="1136.25" font-size="15.5" font-style="italic" font-family='"Liberation Serif", serif' fill="#3659c8">τ</text>
<path d="M402.2,1130.60 H410.8 M406.5,1128.20 V1133.60 M402.2,1135.50 H410.8" stroke="#3659c8" stroke-width="1.15"/>
<text x="417.5" y="1136.25" font-size="14" font-weight="bold" fill="#3659c8">10 %</text>
<text x="390" y="1151.30" font-size="15.5" font-style="italic" font-family='"Liberation Serif", serif' fill="#3659c8">τ</text>
<path d="M402.2,1145.65 H410.8 M406.5,1143.25 V1148.65 M402.2,1150.55 H410.8" stroke="#3659c8" stroke-width="1.15"/>
<text x="417.5" y="1151.30" font-size="14" font-weight="bold" fill="#3659c8">20 %</text>
<text x="390" y="1166.05" font-size="15.5" font-style="italic" font-family='"Liberation Serif", serif' fill="#3659c8">τ</text>
<path d="M402.2,1160.40 H410.8 M406.5,1158.00 V1163.40 M402.2,1165.30 H410.8" stroke="#3659c8" stroke-width="1.15"/>
<text x="417.5" y="1166.05" font-size="14" font-weight="bold" fill="#3659c8">50 %</text>
<text x="276.8" y="1442.40" font-size="16.5" font-family='"Liberation Serif", serif' fill="#3659c8">Δ</text>
<text x="292" y="1442.40" font-size="16" font-weight="bold" fill="#3659c8">modal age</text>
<text x="276.8" y="1465.50" font-size="16.5" font-family='"Liberation Serif", serif' fill="#3659c8">Δ</text>
<text x="292" y="1465.50" font-size="16" font-weight="bold" fill="#3659c8">amplitude</text>
<path d="M377.2,1435.85 H387.2 M377.2,1439.25 H387.2" stroke="#3659c8" stroke-width="1.4"/>
<path d="M395.1,1437.75 H404.8 M399.95,1433.10 V1442.40" stroke="#3659c8" stroke-width="1.5"/>
<text x="405.1" y="1442.40" font-size="16" font-weight="bold" fill="#3659c8">10 %</text>
<path d="M373.1,1459.50 H383.1 M373.1,1462.90 H383.1" stroke="#3659c8" stroke-width="1.4"/>
<text x="388.9" y="1465.50" font-size="16" font-weight="bold" fill="#3659c8">-9 %</text>
<text x="205.85" y="1528.9" font-size="18.5" font-weight="bold">Transit time / a</text>
</svg></body></html>
